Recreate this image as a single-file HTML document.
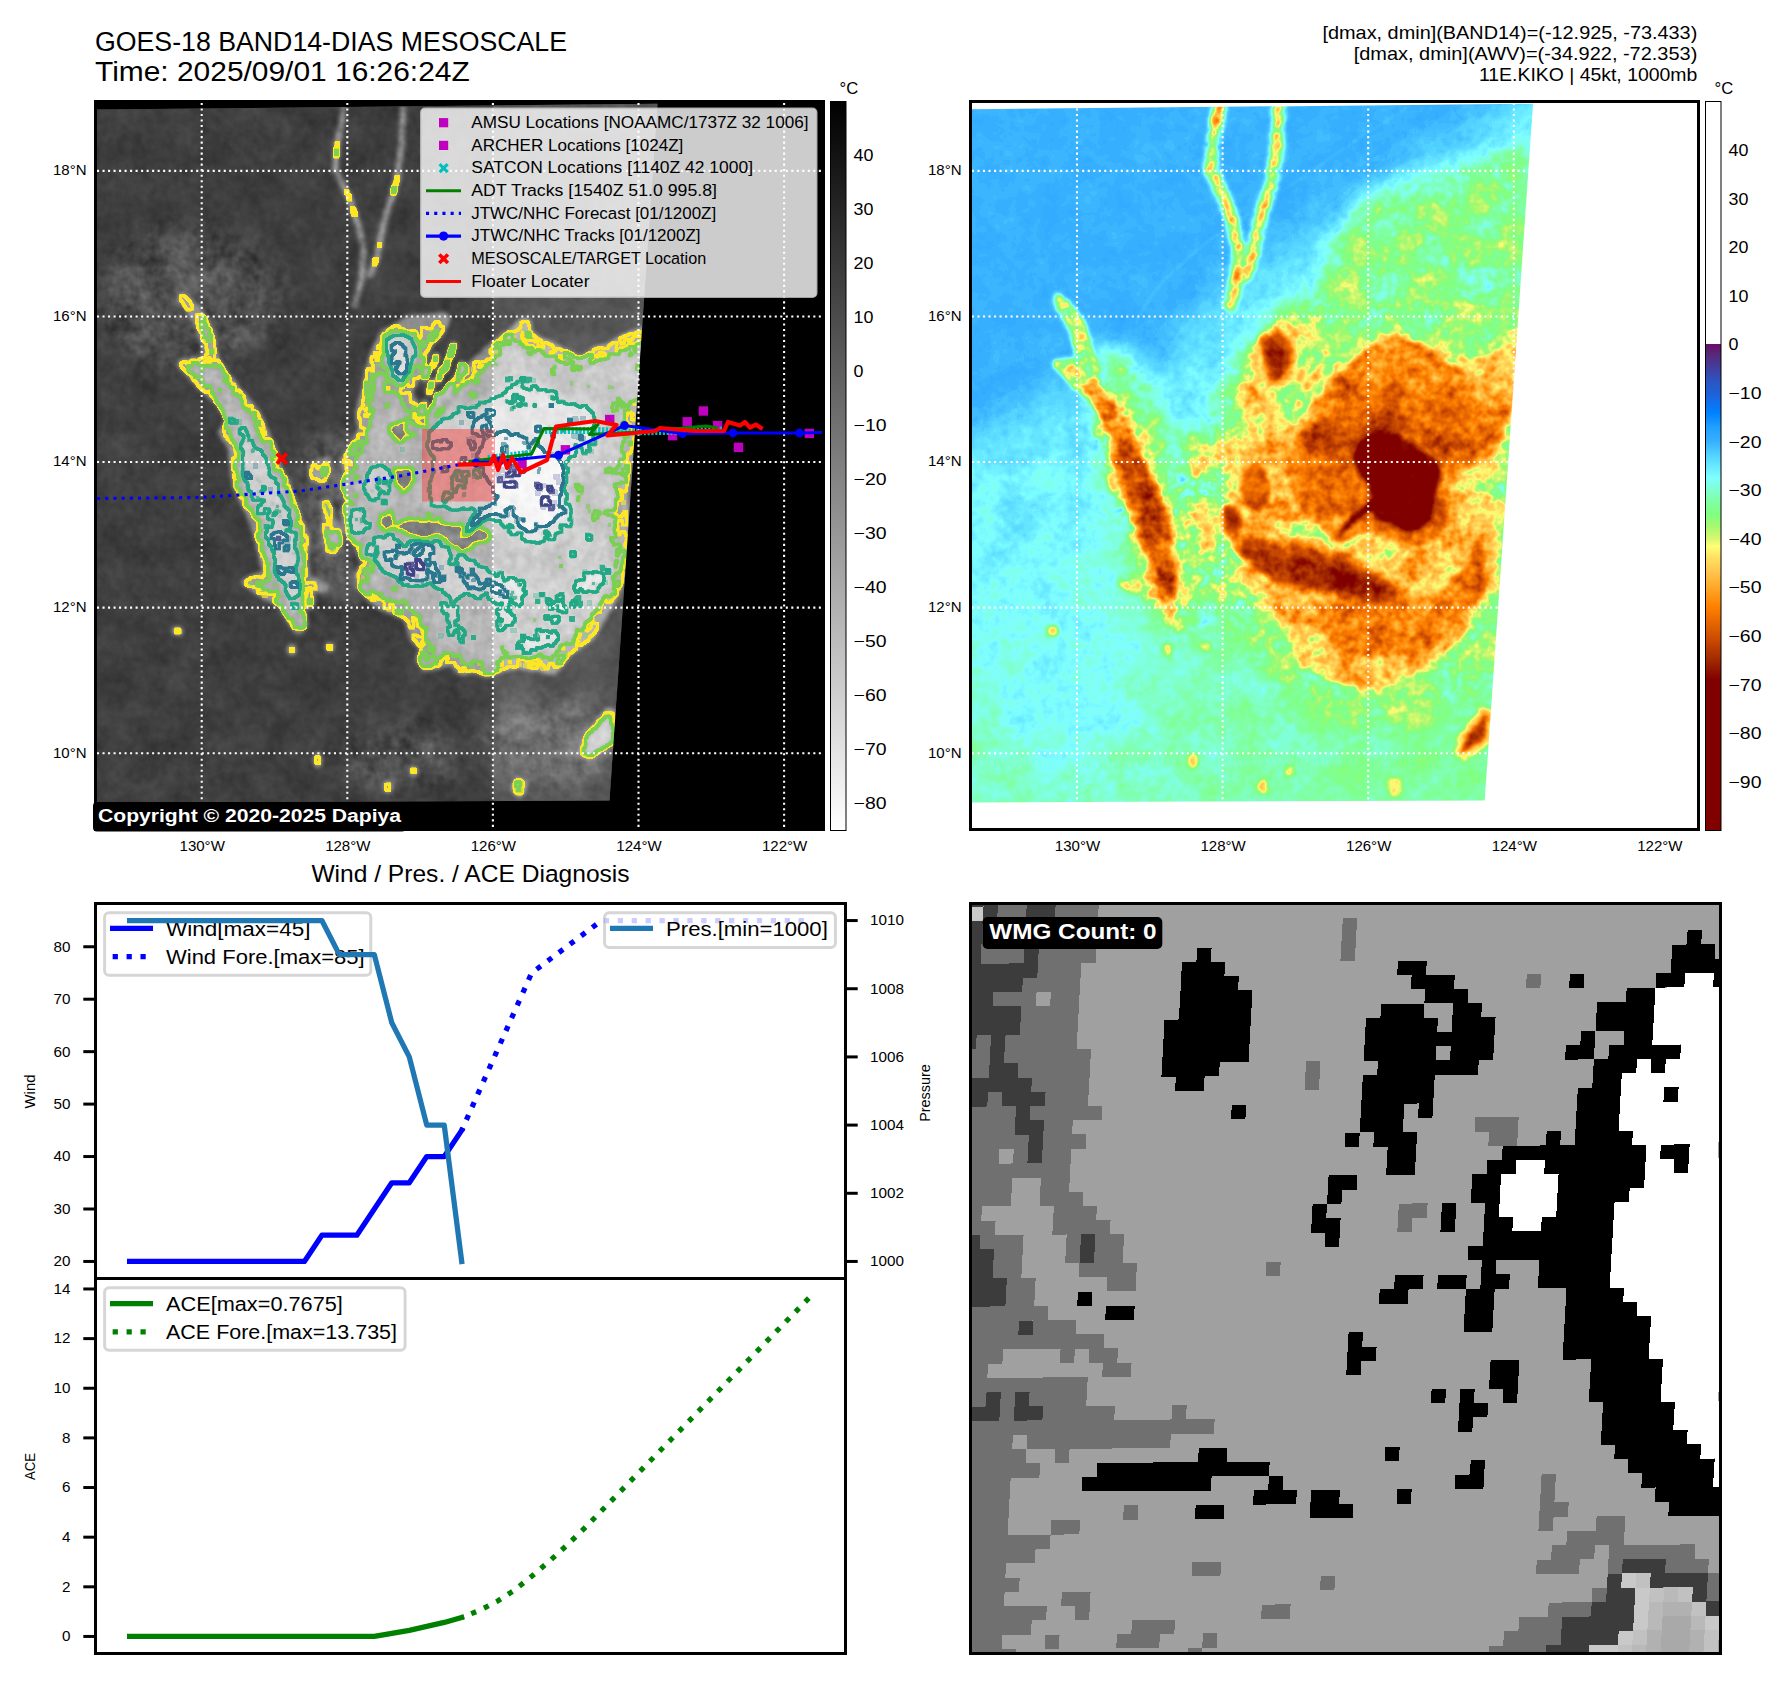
<!DOCTYPE html>
<html><head><meta charset="utf-8"><title>GOES-18 BAND14-DIAS MESOSCALE</title>
<style>
html,body{margin:0;padding:0;background:#fff;}
body{width:1788px;height:1690px;overflow:hidden;}
svg{display:block;font-family:"Liberation Sans",sans-serif;}
</style></head><body>
<svg width="1788" height="1690" viewBox="0 0 1788 1690">
<rect width="1788" height="1690" fill="#fff"/>
<defs></defs>
<g id="tl">
<clipPath id="clipTL"><rect x="97" y="103" width="725" height="725"/></clipPath>
<clipPath id="dataTL"><polygon points="97,109.5 657.5,103.8 609.5,800.5 97,802.5"/></clipPath>
<rect x="96" y="102" width="727" height="727" fill="#000"/>
<g clip-path="url(#dataTL)">
<rect x="96" y="102" width="600" height="720" fill="#404040"/>
<filter id="fIR" x="90" y="95" width="600" height="720" filterUnits="userSpaceOnUse" color-interpolation-filters="sRGB"><feGaussianBlur in="SourceGraphic" stdDeviation="2" result="f0"/><feColorMatrix in="f0" type="matrix" values="1 0 0 0 0  1 0 0 0 0  1 0 0 0 0  0 0 0 0 1" result="fg"/><feColorMatrix in="f0" type="matrix" values="0 1 0 0 0  0 1 0 0 0  0 1 0 0 0  0 0 0 0 1" result="ag"/><feTurbulence type="fractalNoise" baseFrequency="0.03" numOctaves="3" seed="7" result="n1"/><feColorMatrix in="n1" type="matrix" values="1 0 0 0 0  1 0 0 0 0  1 0 0 0 0  0 0 0 0 1" result="ng1"/><feTurbulence type="fractalNoise" baseFrequency="0.12" numOctaves="2" seed="3" result="n2"/><feColorMatrix in="n2" type="matrix" values="1 0 0 0 0  1 0 0 0 0  1 0 0 0 0  0 0 0 0 1" result="ng2"/><feComposite in="ng1" in2="ng2" operator="arithmetic" k1="0" k2="0.607143" k3="0.392857" k4="0" result="N"/><feComposite in="ag" in2="N" operator="arithmetic" k1="0.56" k2="0" k3="0" k4="0" result="t1"/><feComposite in="fg" in2="t1" operator="arithmetic" k1="0" k2="1" k3="1" k4="0" result="F"/><feColorMatrix in="F" type="matrix" values="0 0 0 0 0  0 0 0 0 0  0 0 0 0 0  150.0 0 0 0 -90.000" result="m0"/><feMorphology in="m0" operator="dilate" radius="2" result="d0"/><feMorphology in="m0" operator="erode" radius="1" result="e0"/><feComposite in="d0" in2="e0" operator="out" result="r0"/><feFlood flood-color="#fde725" result="c0"/><feComposite in="c0" in2="r0" operator="in" result="l0"/><feColorMatrix in="F" type="matrix" values="0 0 0 0 0  0 0 0 0 0  0 0 0 0 0  150.0 0 0 0 -96.667" result="m1"/><feMorphology in="m1" operator="dilate" radius="2" result="d1"/><feMorphology in="m1" operator="erode" radius="1" result="e1"/><feComposite in="d1" in2="e1" operator="out" result="r1"/><feFlood flood-color="#7ad151" result="c1"/><feComposite in="c1" in2="r1" operator="in" result="l1"/><feColorMatrix in="F" type="matrix" values="0 0 0 0 0  0 0 0 0 0  0 0 0 0 0  150.0 0 0 0 -115.556" result="m2"/><feMorphology in="m2" operator="dilate" radius="2" result="d2"/><feMorphology in="m2" operator="erode" radius="1" result="e2"/><feComposite in="d2" in2="e2" operator="out" result="r2"/><feFlood flood-color="#22a884" result="c2"/><feComposite in="c2" in2="r2" operator="in" result="l2"/><feColorMatrix in="F" type="matrix" values="0 0 0 0 0  0 0 0 0 0  0 0 0 0 0  150.0 0 0 0 -126.667" result="m3"/><feMorphology in="m3" operator="dilate" radius="2" result="d3"/><feMorphology in="m3" operator="erode" radius="1" result="e3"/><feComposite in="d3" in2="e3" operator="out" result="r3"/><feFlood flood-color="#2a788e" result="c3"/><feComposite in="c3" in2="r3" operator="in" result="l3"/><feColorMatrix in="F" type="matrix" values="0 0 0 0 0  0 0 0 0 0  0 0 0 0 0  150.0 0 0 0 -134.444" result="m4"/><feMorphology in="m4" operator="dilate" radius="2" result="d4"/><feMorphology in="m4" operator="erode" radius="1" result="e4"/><feComposite in="d4" in2="e4" operator="out" result="r4"/><feFlood flood-color="#414487" result="c4"/><feComposite in="c4" in2="r4" operator="in" result="l4"/><feFlood x="493" y="90" width="220" height="730" flood-color="#fff" result="east"/><feComposite in="F" in2="east" operator="arithmetic" k1="0" k2="1" k3="0.09" k4="0" result="Fimg"/><feMerge><feMergeNode in="Fimg"/><feMergeNode in="l0"/><feMergeNode in="l1"/><feMergeNode in="l2"/><feMergeNode in="l3"/><feMergeNode in="l4"/></feMerge></filter>
<filter id="bl6" x="-50%" y="-50%" width="200%" height="200%" color-interpolation-filters="sRGB"><feGaussianBlur stdDeviation="6"/></filter>
<filter id="bl12" x="-50%" y="-50%" width="200%" height="200%" color-interpolation-filters="sRGB"><feGaussianBlur stdDeviation="12"/></filter>
<g filter="url(#fIR)">
<rect x="90" y="95" width="600" height="720" fill="#275400"/>
<ellipse cx="550.0" cy="743" rx="75" ry="45" fill="#1ae600" filter="url(#bl12)"/><ellipse cx="400.0" cy="760" rx="60" ry="30" fill="#13e600" filter="url(#bl12)"/><ellipse cx="190.0" cy="300" rx="90" ry="70" fill="#0fe600" filter="url(#bl12)"/><path d="M299.6 441.4 L329.2 435.5 L364.7 429.6 L373.0 439.1 L368.2 447.3 L359.9 452.1 L346.9 455.6 L345.7 466.3 L352.8 473.4 L357.6 482.8 L364.7 494.7 L368.2 506.5 L359.9 512.4 L346.9 506.5 L345.7 518.3 L348.1 537.3 L352.8 553.8 L364.7 565.7 L370.6 583.4 L352.8 600.0 L323.3 600.0 L305.5 577.5 L303.1 542.0 L300.8 506.5 L298.4 471.0Z" fill="#1ae600" filter="url(#bl12)"/><path d="M426.3 421.7 L437.0 407.8 L447.6 396.1 L458.3 382.3 L469.0 371.6 L479.6 362.0 L490.3 352.4 L500.9 343.9 L511.6 336.5 L521.1 327.9 L524.3 325.2 L527.5 337.5 L538.2 343.9 L552.0 349.2 L564.8 356.7 L576.5 363.5 L588.3 361.0 L596.8 353.5 L609.6 350.3 L622.3 342.2 L635.1 337.1 L652.2 331.1 L652.2 399.3 L639.4 403.6 L633.0 416.3 L628.7 441.9 L624.5 467.5 L621.3 493.0 L622.3 525.0 L622.3 552.7 L622.3 553.3 L618.1 578.8 L607.4 602.3 L596.8 621.4 L586.1 636.3 L566.9 649.1 L552.0 668.3 L537.1 664.0 L520.1 661.9 L503.0 664.0 L488.1 670.4 L475.3 666.2 L462.6 668.3 L451.9 657.6 L439.1 661.9 L426.3 664.0 L423.1 657.6 L430.6 649.1 L417.8 638.5 L413.6 627.8 L409.3 615.0 L396.5 608.6 L383.7 604.4 L375.2 598.0 L364.6 585.2 L362.4 574.6 L371.0 563.9 L364.6 553.3 L360.3 542.6 L349.7 527.7 L347.5 512.8 L351.8 502.1 L347.5 484.5 L351.8 471.7 L347.5 461.1 L353.9 450.4 L360.3 441.9 L364.6 429.1 L362.4 416.3 L364.6 403.6 L368.8 390.8 L371.0 375.9 L375.2 361.0 L379.5 348.2 L385.9 339.7 L396.5 331.1 L409.3 322.6 L426.3 321.5 L443.4 319.4 L437.0 331.1 L426.3 341.8 L420.0 354.6 L413.6 369.5 L408.2 382.3 L406.1 395.0 L411.4 405.7 L420.0 414.2Z" fill="#879900" stroke="#749900" stroke-width="14" stroke-linejoin="round" /><path d="M182.6 297.9 L192.1 312.1 L201.5 328.6 L206.3 345.2 L208.6 359.4 L182.6 364.1 L201.5 385.4 L220.5 402.0 L229.9 420.9 L222.8 432.8 L232.3 447.0 L234.7 468.3 L237.0 484.9 L244.1 499.1 L251.2 515.6 L258.3 534.6 L263.1 555.9 L267.8 574.8 L246.5 581.9 L263.1 593.7 L282.0 603.2 L291.5 619.8 L298.6 629.2 L303.3 624.5 L300.9 603.2 L303.3 589.0 L324.6 587.8 L305.7 577.2 L303.3 558.2 L305.7 539.3 L298.6 520.4 L291.5 501.4 L286.7 484.9 L277.3 468.3 L272.5 449.3 L263.1 430.4 L256.0 413.8 L244.1 399.6 L234.7 387.8 L222.8 373.6 L213.4 354.7 L211.0 338.1 L203.9 321.5 L194.4 307.3Z" fill="#7ab200" stroke="#6db200" stroke-width="9" stroke-linejoin="round" /><path d="M379.5 348.2 L385.9 335.4 L400.8 327.9 L415.7 331.1 L423.1 343.9 L421.0 361.0 L414.6 375.9 L407.2 388.6 L398.6 390.8 L390.1 386.5 L383.7 373.7 L380.5 361.0Z" fill="#859900" stroke="#749900" stroke-width="12" stroke-linejoin="round" /><path d="M310.2 466.3 L317.3 461.5 L328.0 459.2 L329.2 471.0 L323.3 480.5 L312.6 480.5Z" fill="#78b200" stroke="#6bb200" stroke-width="5" stroke-linejoin="round" /><path d="M322.1 503.0 L328.0 501.8 L331.5 511.2 L330.4 523.1 L324.4 520.7Z" fill="#74b200" stroke="#6bb200" stroke-width="5" stroke-linejoin="round" /><path d="M323.3 524.3 L333.9 519.5 L339.8 527.8 L341.0 542.0 L333.9 551.5 L326.8 549.1 L325.6 536.1Z" fill="#74b200" stroke="#6bb200" stroke-width="5" stroke-linejoin="round" /><path d="M392.3 422.7 L402.9 420.6 L407.2 433.4 L400.8 444.0 L392.3 439.8Z" fill="#4eb200" /><path d="M397.6 469.6 L409.3 467.5 L411.4 482.4 L405.0 490.9 L396.5 484.5Z" fill="#4eb200" /><path d="M396.5 527.1 L409.3 535.6 L426.3 538.8 L439.1 536.7 L451.9 546.3 L462.6 552.7 L475.3 544.2 L488.1 539.9 L490.3 531.4 L477.5 527.1 L460.4 525.0 L439.1 522.9 L417.8 520.7 L400.8 520.7Z" fill="#4eb200" /><path d="M475.3 506.9 L493.5 496.2 L497.7 504.8 L481.7 513.3Z" fill="#4eb200" /><path d="M389.5 423.7 L400.2 422.5 L403.7 432.0 L397.8 439.1 L388.3 435.5Z" fill="#4eb200" /><path d="M394.3 468.6 L413.2 469.8 L407.3 489.9 L399.0 482.8 L394.3 473.4Z" fill="#4eb200" /><path d="M381.2 516.0 L393.1 513.6 L394.3 525.4 L386.0 533.7 L380.1 525.4Z" fill="#4eb200" /><path d="M439.1 602.3 L481.7 606.5 L524.3 606.5 L566.9 589.5 L592.5 563.9 L605.3 538.3 L609.6 589.5 L588.3 619.3 L562.7 640.6 L535.0 653.4 L503.0 657.6 L471.1 653.4 L447.6 636.3Z" fill="#8bb200" /><path d="M426.3 493.0 L428.5 467.5 L434.9 441.9 L443.4 424.9 L451.9 412.1 L469.0 407.8 L481.7 399.3 L494.5 395.0 L505.2 386.5 L515.8 382.3 L528.6 386.5 L545.6 388.6 L556.3 399.3 L569.1 401.4 L584.0 400.4 L594.6 407.8 L598.9 424.9 L592.5 441.9 L584.0 450.4 L573.3 456.8 L566.9 471.7 L569.1 493.0 L573.3 514.3 L566.9 531.4 L556.3 542.0 L541.4 546.3 L524.3 544.2 L511.6 537.8 L503.0 531.4 L490.3 527.1 L481.7 516.5 L471.1 512.2 L456.2 514.3 L439.1 512.2 L428.5 505.8Z" fill="#ac7300" stroke="#9d7300" stroke-width="8" stroke-linejoin="round" /><path d="M351.8 512.8 L360.3 506.4 L371.0 521.3 L375.2 532.0 L390.1 534.1 L405.0 541.5 L422.1 538.3 L439.1 543.7 L456.2 551.1 L475.3 556.5 L490.3 568.2 L505.2 572.4 L522.2 581.0 L537.1 593.7 L545.6 589.5 L547.8 602.3 L537.1 610.8 L520.1 615.0 L503.0 619.3 L488.1 615.0 L477.5 606.5 L466.8 600.1 L451.9 596.9 L434.9 592.7 L417.8 590.5 L402.9 587.3 L392.3 578.8 L383.7 570.3 L375.2 563.9 L362.4 555.4 L353.9 534.1Z" fill="#8bb200" /><path d="M364.6 546.9 L375.2 536.2 L390.1 540.5 L405.0 546.9 L422.1 542.6 L439.1 549.0 L456.2 557.5 L473.2 561.8 L486.0 572.4 L503.0 576.7 L518.0 585.2 L522.2 593.7 L513.7 602.3 L498.8 604.4 L481.7 598.0 L469.0 593.7 L451.9 591.6 L434.9 587.3 L417.8 585.2 L400.8 581.0 L385.9 572.4 L375.2 559.7 L366.7 553.3Z" fill="#a59900" /><path d="M384.8 337.5 L400.8 333.3 L413.6 337.5 L417.8 350.3 L413.6 365.2 L407.2 375.9 L400.8 384.4 L394.4 378.0 L390.1 365.2 L385.9 352.4Z" fill="#a88000" /><path d="M378.8 463.1 L389.4 469.5 L395.8 486.5 L393.7 503.6 L383.0 512.1 L370.3 505.7 L363.9 488.6 L368.1 471.6Z" fill="#a68000" /><path d="M348.1 506.5 L355.2 507.7 L364.7 518.3 L368.2 527.8 L357.6 532.5 L350.5 537.3 L348.1 518.3Z" fill="#a68000" /><path d="M211.0 371.2 L225.2 387.8 L239.4 406.7 L251.2 423.3 L263.1 444.6 L272.5 463.6 L282.0 484.9 L291.5 508.5 L298.6 532.2 L300.9 555.9 L302.1 579.5 L300.9 610.3 L293.8 610.3 L284.4 591.4 L272.5 572.4 L265.4 548.8 L258.3 525.1 L248.9 503.8 L241.8 480.1 L237.0 458.8 L234.7 439.9 L227.6 420.9 L218.1 402.0 L206.3 383.1 L194.4 368.9Z" fill="#85b200" /><path d="M241.8 428.0 L253.6 439.9 L265.4 456.4 L272.5 473.0 L277.3 492.0 L286.7 510.9 L293.8 532.2 L296.2 553.5 L298.6 574.8 L300.9 598.5 L291.5 596.1 L282.0 574.8 L272.5 553.5 L265.4 532.2 L256.0 508.5 L248.9 487.2 L244.1 465.9 L241.8 444.6Z" fill="#a19900" /><path d="M581.9 751.4 L588.3 734.3 L598.9 721.6 L607.4 710.9 L613.8 713.0 L613.8 740.7 L601.0 749.3 L588.3 757.8Z" fill="#998000" stroke="#7b8000" stroke-width="6" stroke-linejoin="round" /><path d="M426.3 433.4 L439.1 422.7 L456.2 418.5 L473.2 416.3 L490.3 412.1 L507.3 410.0 L524.3 414.2 L541.4 420.6 L556.3 429.1 L571.2 441.9 L575.5 454.7 L566.9 456.8 L558.4 456.8 L545.6 450.4 L535.0 441.9 L520.1 433.4 L503.0 431.3 L488.1 437.6 L481.7 446.2 L477.5 459.0 L473.2 467.5 L460.4 463.2 L451.9 454.7 L439.1 456.8 L428.5 450.4Z" fill="#b56600" /><path d="M488.1 437.6 L503.0 431.3 L520.1 433.4 L535.0 441.9 L545.6 450.4 L558.4 456.8 L564.8 471.7 L562.7 488.8 L558.4 505.8 L556.3 518.6 L545.6 529.3 L530.7 531.4 L515.8 525.0 L503.0 520.7 L494.5 511.1 L481.7 520.7 L471.1 531.4 L460.4 537.8 L466.8 527.1 L477.5 514.3 L490.3 505.8 L496.6 497.3 L492.4 484.5 L481.7 471.7 L477.5 459.0 L481.7 446.2Z" fill="#ca4c00" /><path d="M383.7 551.1 L396.5 553.3 L409.3 557.5 L426.3 555.4 L439.1 561.8 L456.2 566.0 L473.2 570.3 L486.0 578.8 L503.0 585.2 L511.6 591.6 L503.0 598.0 L486.0 593.7 L469.0 587.3 L451.9 585.2 L434.9 581.0 L417.8 578.8 L402.9 574.6 L390.1 563.9Z" fill="#b09900" /><path d="M390.1 343.9 L400.8 341.8 L409.3 350.3 L407.2 365.2 L400.8 375.9 L395.5 369.5 L392.3 356.7Z" fill="#bf6600" /><polyline points="343.9,108.1 337.4,143.2 335.2,169.4 348.3,195.7 357.1,222.0 363.6,248.2 361.5,278.9 354.9,305.2" fill="none" stroke="#38cc00" stroke-width="7" stroke-linecap="round" stroke-linejoin="round" /><polyline points="403.0,108.1 401.7,147.5 396.5,182.6 387.7,208.8 381.2,235.1 376.8,257.0 370.2,274.5" fill="none" stroke="#38cc00" stroke-width="7" stroke-linecap="round" stroke-linejoin="round" /><polyline points="343.9,108.1 337.4,143.2 335.2,169.4 348.3,195.7 357.1,222.0 363.6,248.2 361.5,278.9 354.9,305.2" fill="none" stroke="#53ff00" stroke-width="4.5" stroke-linecap="round" stroke-linejoin="round" /><polyline points="403.0,108.1 401.7,147.5 396.5,182.6 387.7,208.8 381.2,235.1 376.8,257.0 370.2,274.5" fill="none" stroke="#53ff00" stroke-width="4.5" stroke-linecap="round" stroke-linejoin="round" /><polyline points="433.4,366.0 436.4,356.0" fill="none" stroke="#929900" stroke-width="6" stroke-linecap="round" stroke-linejoin="round" /><polyline points="438.7,379.8 441.7,369.8" fill="none" stroke="#929900" stroke-width="6" stroke-linecap="round" stroke-linejoin="round" /><polyline points="445.1,370.2 448.1,360.2" fill="none" stroke="#929900" stroke-width="6" stroke-linecap="round" stroke-linejoin="round" /><polyline points="429.1,392.6 432.1,382.6" fill="none" stroke="#929900" stroke-width="6" stroke-linecap="round" stroke-linejoin="round" /><polyline points="435.5,405.4 438.5,395.4" fill="none" stroke="#929900" stroke-width="6" stroke-linecap="round" stroke-linejoin="round" /><polyline points="447.2,395.8 450.2,385.8" fill="none" stroke="#929900" stroke-width="6" stroke-linecap="round" stroke-linejoin="round" /><polyline points="421.6,412.8 424.6,402.8" fill="none" stroke="#929900" stroke-width="6" stroke-linecap="round" stroke-linejoin="round" /><polyline points="430.2,421.3 433.2,411.3" fill="none" stroke="#929900" stroke-width="6" stroke-linecap="round" stroke-linejoin="round" /><polyline points="450.4,355.3 453.4,345.3" fill="none" stroke="#929900" stroke-width="6" stroke-linecap="round" stroke-linejoin="round" /><polyline points="458.9,374.5 461.9,364.5" fill="none" stroke="#929900" stroke-width="6" stroke-linecap="round" stroke-linejoin="round" /><polyline points="424.8,378.7 427.8,368.7" fill="none" stroke="#929900" stroke-width="6" stroke-linecap="round" stroke-linejoin="round" /><ellipse cx="177.6" cy="631.0" rx="5.5" ry="4.5" fill="#838000"/><ellipse cx="317.7" cy="760.0" rx="4.5" ry="7.5" fill="#838000"/><ellipse cx="387.7" cy="787.0" rx="4.5" ry="6.5" fill="#838000"/><ellipse cx="414.0" cy="771.0" rx="4.5" ry="4.5" fill="#838000"/><ellipse cx="519.0" cy="787.0" rx="7.5" ry="9.5" fill="#838000"/><ellipse cx="310.0" cy="600.0" rx="4.5" ry="9.5" fill="#838000"/><ellipse cx="292.0" cy="650.0" rx="4.5" ry="5.5" fill="#838000"/><ellipse cx="330.0" cy="647.0" rx="4.5" ry="4.5" fill="#838000"/>
</g>
</g>
<g clip-path="url(#clipTL)">
<rect x="422" y="429" width="73" height="72.5" fill="#ff3030" fill-opacity="0.42"/>
<line x1="201.7" y1="103" x2="201.7" y2="828" stroke="#fff" stroke-width="2.08" stroke-dasharray="2.08 3.43" stroke-dashoffset="0"/>
<line x1="347.3" y1="103" x2="347.3" y2="828" stroke="#fff" stroke-width="2.08" stroke-dasharray="2.08 3.43" stroke-dashoffset="0"/>
<line x1="492.9" y1="103" x2="492.9" y2="828" stroke="#fff" stroke-width="2.08" stroke-dasharray="2.08 3.43" stroke-dashoffset="0"/>
<line x1="638.5" y1="103" x2="638.5" y2="828" stroke="#fff" stroke-width="2.08" stroke-dasharray="2.08 3.43" stroke-dashoffset="0"/>
<line x1="784.1" y1="103" x2="784.1" y2="828" stroke="#fff" stroke-width="2.08" stroke-dasharray="2.08 3.43" stroke-dashoffset="0"/>
<line x1="97" y1="170.9" x2="822" y2="170.9" stroke="#fff" stroke-width="2.08" stroke-dasharray="2.08 3.43"/>
<line x1="97" y1="316.5" x2="822" y2="316.5" stroke="#fff" stroke-width="2.08" stroke-dasharray="2.08 3.43"/>
<line x1="97" y1="462.0" x2="822" y2="462.0" stroke="#fff" stroke-width="2.08" stroke-dasharray="2.08 3.43"/>
<line x1="97" y1="607.6" x2="822" y2="607.6" stroke="#fff" stroke-width="2.08" stroke-dasharray="2.08 3.43"/>
<line x1="97" y1="753.2" x2="822" y2="753.2" stroke="#fff" stroke-width="2.08" stroke-dasharray="2.08 3.43"/>
<rect x="605.0" y="414.8" width="9.4" height="9.4" fill="#bf00bf"/>
<rect x="698.7" y="406.3" width="9.4" height="9.4" fill="#bf00bf"/>
<rect x="682.5" y="417.1" width="9.4" height="9.4" fill="#bf00bf"/>
<rect x="712.9" y="420.9" width="9.4" height="9.4" fill="#bf00bf"/>
<rect x="667.9" y="431.0" width="9.4" height="9.4" fill="#bf00bf"/>
<rect x="733.8" y="442.7" width="9.4" height="9.4" fill="#bf00bf"/>
<rect x="804.6" y="428.7" width="9.4" height="9.4" fill="#bf00bf"/>
<rect x="560.7" y="445.1" width="9.4" height="9.4" fill="#bf00bf"/>
<rect x="517.3" y="459.1" width="9.4" height="9.4" fill="#bf00bf"/>
<polyline points="488.0,458.5 532.0,453.0" fill="none" stroke="#00bfbf" stroke-width="7" stroke-linejoin="round" stroke-dasharray="2.2 1.6"/>
<polyline points="545.0,430.5 600.0,430.5 625.0,432.0 700.0,431.0 722.0,430.0" fill="none" stroke="#00bfbf" stroke-width="7" stroke-linejoin="round" stroke-dasharray="2.2 1.6"/>
<polyline points="468.5,461.5 531.5,454.0 544.0,428.5 590.0,429.0 598.0,424.5 589.5,434.5 640.0,432.0 706.0,426.0 718.0,428.0" fill="none" stroke="#008000" stroke-width="3.1" stroke-linejoin="round" />
<polyline points="97.0,498.5 200.0,497.5 300.0,491.0 400.0,476.0 457.0,465.0 476.0,463.0" fill="none" stroke="#0000ff" stroke-width="3.1" stroke-linejoin="round" stroke-dasharray="3.1 5.1"/>
<polyline points="822.0,432.5 799.5,433.0 733.0,433.0 682.5,433.5 624.5,425.5 558.5,455.2 500.0,461.0 476.0,463.0" fill="none" stroke="#0000ff" stroke-width="3.1" stroke-linejoin="round" />
<circle cx="799.5" cy="433.0" r="4.4" fill="#0000ff"/>
<circle cx="733.0" cy="433.0" r="4.4" fill="#0000ff"/>
<circle cx="682.5" cy="433.5" r="4.4" fill="#0000ff"/>
<circle cx="624.5" cy="425.5" r="4.4" fill="#0000ff"/>
<circle cx="558.5" cy="455.2" r="4.4" fill="#0000ff"/>
<circle cx="500.0" cy="461.0" r="4.4" fill="#0000ff"/>
<circle cx="476.0" cy="463.0" r="4.4" fill="#0000ff"/>
<polyline points="457.7,464.6 490.0,464.0 494.0,456.0 498.0,470.0 503.0,455.0 507.0,468.0 512.0,458.0 517.0,466.0 520.8,472.3 547.0,460.0 556.0,426.5 595.0,421.0 616.5,425.0 607.5,435.5 655.0,431.0 660.0,428.0 694.0,431.0 724.0,431.0 728.0,422.0 740.0,425.5 745.0,422.0 750.0,427.5 756.0,424.5 762.5,429.0" fill="none" stroke="#ff0000" stroke-width="4.2" stroke-linejoin="round" />
<path d="M276.8 453.6L286.8 463.6M276.8 463.6L286.8 453.6" stroke="#ff0000" stroke-width="3.8" fill="none"/>
</g>
<rect x="421" y="108.5" width="395.5" height="188.5" rx="4" ry="4" fill="#fff" fill-opacity="0.8" stroke="#ccc" stroke-opacity="0.8" stroke-width="2"/>
<text x="471.30" y="127.90" font-size="16.56" textLength="337.22" lengthAdjust="spacingAndGlyphs" fill="#000">AMSU Locations [NOAAMC/1737Z 32 1006]</text>
<text x="471.30" y="150.58" font-size="16.56" textLength="212.03" lengthAdjust="spacingAndGlyphs" fill="#000">ARCHER Locations [1024Z]</text>
<text x="471.30" y="173.26" font-size="16.56" textLength="281.72" lengthAdjust="spacingAndGlyphs" fill="#000">SATCON Locations [1140Z 42 1000]</text>
<text x="471.30" y="195.94" font-size="16.56" textLength="245.64" lengthAdjust="spacingAndGlyphs" fill="#000">ADT Tracks [1540Z 51.0 995.8]</text>
<text x="471.30" y="218.62" font-size="16.56" textLength="244.88" lengthAdjust="spacingAndGlyphs" fill="#000">JTWC/NHC Forecast [01/1200Z]</text>
<text x="471.30" y="241.30" font-size="16.56" textLength="229.19" lengthAdjust="spacingAndGlyphs" fill="#000">JTWC/NHC Tracks [01/1200Z]</text>
<text x="471.30" y="263.98" font-size="16.56" textLength="234.87" lengthAdjust="spacingAndGlyphs" fill="#000">MESOSCALE/TARGET Location</text>
<text x="471.30" y="286.66" font-size="16.56" textLength="118.19" lengthAdjust="spacingAndGlyphs" fill="#000">Floater Locater</text>
<rect x="439" y="118.1" width="9.2" height="9.2" fill="#bf00bf"/>
<rect x="439" y="140.8" width="9.2" height="9.2" fill="#bf00bf"/>
<path d="M439.6 164.1L447.6 172.1M439.6 172.1L447.6 164.1" stroke="#00bfbf" stroke-width="3.1" fill="none"/>
<line x1="426" y1="190.7" x2="461" y2="190.7" stroke="#008000" stroke-width="3.1"/>
<line x1="426" y1="213.4" x2="461" y2="213.4" stroke="#0000ff" stroke-width="3.1" stroke-dasharray="3.1 5.1"/>
<line x1="426" y1="236.1" x2="461" y2="236.1" stroke="#0000ff" stroke-width="3.1"/>
<circle cx="443.6" cy="236.1" r="4.6" fill="#0000ff"/>
<path d="M439.3 254.5L447.9 263.1M439.3 263.1L447.9 254.5" stroke="#ff0000" stroke-width="3.6" fill="none"/>
<line x1="426" y1="281.5" x2="461" y2="281.5" stroke="#ff0000" stroke-width="3.1"/>
<rect x="93" y="802" width="313" height="29.5" rx="4" ry="4" fill="#000"/>
<text x="98.00" y="821.60" font-size="18.41" textLength="303.04" lengthAdjust="spacingAndGlyphs" fill="#fff" font-weight="bold">Copyright © 2020-2025 Dapiya</text>
<rect x="95.5" y="101.5" width="728" height="728" fill="none" stroke="#000" stroke-width="3"/>
<text x="53.00" y="175.20" font-size="14.12" textLength="33.60" lengthAdjust="spacingAndGlyphs" fill="#000">18°N</text>
<text x="53.00" y="320.80" font-size="14.12" textLength="33.60" lengthAdjust="spacingAndGlyphs" fill="#000">16°N</text>
<text x="53.00" y="466.30" font-size="14.12" textLength="33.60" lengthAdjust="spacingAndGlyphs" fill="#000">14°N</text>
<text x="53.00" y="611.90" font-size="14.12" textLength="33.60" lengthAdjust="spacingAndGlyphs" fill="#000">12°N</text>
<text x="53.00" y="757.50" font-size="14.12" textLength="33.60" lengthAdjust="spacingAndGlyphs" fill="#000">10°N</text>
<text x="179.56" y="851.00" font-size="14.12" textLength="45.29" lengthAdjust="spacingAndGlyphs" fill="#000">130°W</text>
<text x="325.16" y="851.00" font-size="14.12" textLength="45.29" lengthAdjust="spacingAndGlyphs" fill="#000">128°W</text>
<text x="470.76" y="851.00" font-size="14.12" textLength="45.29" lengthAdjust="spacingAndGlyphs" fill="#000">126°W</text>
<text x="616.36" y="851.00" font-size="14.12" textLength="45.29" lengthAdjust="spacingAndGlyphs" fill="#000">124°W</text>
<text x="761.96" y="851.00" font-size="14.12" textLength="45.29" lengthAdjust="spacingAndGlyphs" fill="#000">122°W</text>
<text x="95.00" y="50.80" font-size="27.59" textLength="471.99" lengthAdjust="spacingAndGlyphs" fill="#000">GOES-18 BAND14-DIAS MESOSCALE</text>
<text x="95.00" y="81.00" font-size="27.59" textLength="374.73" lengthAdjust="spacingAndGlyphs" fill="#000">Time: 2025/09/01 16:26:24Z</text>
<linearGradient id="cbGray" x1="0" y1="0" x2="0" y2="1"><stop offset="0" stop-color="#000"/><stop offset="1" stop-color="#fff"/></linearGradient>
<rect x="830.5" y="101.5" width="15.5" height="729" fill="url(#cbGray)" stroke="#000" stroke-width="1"/>
<text x="853.60" y="161.40" font-size="16.56" textLength="19.88" lengthAdjust="spacingAndGlyphs" fill="#000">40</text>
<text x="853.60" y="215.40" font-size="16.56" textLength="19.88" lengthAdjust="spacingAndGlyphs" fill="#000">30</text>
<text x="853.60" y="269.40" font-size="16.56" textLength="19.88" lengthAdjust="spacingAndGlyphs" fill="#000">20</text>
<text x="853.60" y="323.40" font-size="16.56" textLength="19.88" lengthAdjust="spacingAndGlyphs" fill="#000">10</text>
<text x="853.60" y="377.40" font-size="16.56" textLength="9.94" lengthAdjust="spacingAndGlyphs" fill="#000">0</text>
<text x="853.60" y="431.40" font-size="16.56" textLength="32.97" lengthAdjust="spacingAndGlyphs" fill="#000">−10</text>
<text x="853.60" y="485.40" font-size="16.56" textLength="32.97" lengthAdjust="spacingAndGlyphs" fill="#000">−20</text>
<text x="853.60" y="539.40" font-size="16.56" textLength="32.97" lengthAdjust="spacingAndGlyphs" fill="#000">−30</text>
<text x="853.60" y="593.40" font-size="16.56" textLength="32.97" lengthAdjust="spacingAndGlyphs" fill="#000">−40</text>
<text x="853.60" y="647.40" font-size="16.56" textLength="32.97" lengthAdjust="spacingAndGlyphs" fill="#000">−50</text>
<text x="853.60" y="701.40" font-size="16.56" textLength="32.97" lengthAdjust="spacingAndGlyphs" fill="#000">−60</text>
<text x="853.60" y="755.40" font-size="16.56" textLength="32.97" lengthAdjust="spacingAndGlyphs" fill="#000">−70</text>
<text x="853.60" y="809.40" font-size="16.56" textLength="32.97" lengthAdjust="spacingAndGlyphs" fill="#000">−80</text>
<text x="839.50" y="93.80" font-size="16.56" textLength="18.72" lengthAdjust="spacingAndGlyphs" fill="#000">°C</text>
</g>
<g id="tr">
<clipPath id="clipTR"><rect x="972" y="103" width="725" height="725"/></clipPath>
<clipPath id="dataTR"><polygon points="972,109.3 1533,103.8 1484.7,800.5 972,802.5"/></clipPath>
<rect x="971" y="102" width="727" height="727" fill="#fff"/>
<g clip-path="url(#dataTR)">
<filter id="fWV" x="965" y="95" width="600" height="720" filterUnits="userSpaceOnUse" color-interpolation-filters="sRGB"><feGaussianBlur in="SourceGraphic" stdDeviation="2" result="f0"/><feColorMatrix in="f0" type="matrix" values="1 0 0 0 0  1 0 0 0 0  1 0 0 0 0  0 0 0 0 1" result="fg"/><feColorMatrix in="f0" type="matrix" values="0 1 0 0 0  0 1 0 0 0  0 1 0 0 0  0 0 0 0 1" result="ag"/><feTurbulence type="fractalNoise" baseFrequency="0.03" numOctaves="3" seed="11" result="n1"/><feColorMatrix in="n1" type="matrix" values="1 0 0 0 0  1 0 0 0 0  1 0 0 0 0  0 0 0 0 1" result="ng1"/><feTurbulence type="fractalNoise" baseFrequency="0.12" numOctaves="2" seed="5" result="n2"/><feColorMatrix in="n2" type="matrix" values="1 0 0 0 0  1 0 0 0 0  1 0 0 0 0  0 0 0 0 1" result="ng2"/><feComposite in="ng1" in2="ng2" operator="arithmetic" k1="0" k2="0.578947" k3="0.421053" k4="0" result="N"/><feComposite in="ag" in2="N" operator="arithmetic" k1="0.38" k2="0" k3="0" k4="0" result="t1"/><feComposite in="fg" in2="t1" operator="arithmetic" k1="0" k2="1" k3="1" k4="0" result="F"/><feComponentTransfer in="F"><feFuncR type="table" tableValues="1.000 1.000 1.000 1.000 1.000 1.000 1.000 1.000 1.000 1.000 1.000 1.000 1.000 1.000 1.000 1.000 1.000 1.000 1.000 1.000 1.000 1.000 1.000 1.000 1.000 1.000 1.000 1.000 1.000 1.000 1.000 1.000 1.000 1.000 1.000 1.000 1.000 1.000 1.000 1.000 0.408 0.369 0.329 0.290 0.251 0.212 0.173 0.145 0.125 0.086 0.047 0.008 0.042 0.094 0.141 0.180 0.220 0.267 0.314 0.361 0.408 0.455 0.502 0.502 0.502 0.502 0.502 0.502 0.502 0.580 0.659 0.753 0.847 0.975 1.000 1.000 1.000 1.000 1.000 1.000 1.000 1.000 1.000 1.000 0.970 0.932 0.894 0.855 0.816 0.769 0.722 0.675 0.627 0.588 0.549 0.510 0.502 0.502 0.502 0.502 0.502 0.502 0.502 0.502 0.502 0.502 0.502 0.502 0.502"/><feFuncG type="table" tableValues="1.000 1.000 1.000 1.000 1.000 1.000 1.000 1.000 1.000 1.000 1.000 1.000 1.000 1.000 1.000 1.000 1.000 1.000 1.000 1.000 1.000 1.000 1.000 1.000 1.000 1.000 1.000 1.000 1.000 1.000 1.000 1.000 1.000 1.000 1.000 1.000 1.000 1.000 1.000 1.000 0.063 0.122 0.173 0.212 0.251 0.290 0.329 0.357 0.376 0.416 0.455 0.494 0.544 0.596 0.638 0.664 0.690 0.753 0.816 0.863 0.910 0.955 1.000 1.000 1.000 1.000 1.000 1.000 1.000 0.986 0.973 0.973 0.973 0.995 0.951 0.891 0.841 0.794 0.748 0.704 0.659 0.610 0.561 0.512 0.471 0.431 0.392 0.353 0.314 0.275 0.235 0.196 0.157 0.108 0.059 0.010 0.000 0.000 0.000 0.000 0.000 0.000 0.000 0.000 0.000 0.000 0.000 0.000 0.000"/><feFuncB type="table" tableValues="1.000 1.000 1.000 1.000 1.000 1.000 1.000 1.000 1.000 1.000 1.000 1.000 1.000 1.000 1.000 1.000 1.000 1.000 1.000 1.000 1.000 1.000 1.000 1.000 1.000 1.000 1.000 1.000 1.000 1.000 1.000 1.000 1.000 1.000 1.000 1.000 1.000 1.000 1.000 1.000 0.408 0.447 0.497 0.562 0.627 0.693 0.758 0.802 0.831 0.900 0.956 0.993 1.000 1.000 1.000 1.000 1.000 1.000 1.000 1.000 1.000 1.000 1.000 0.908 0.816 0.722 0.627 0.565 0.502 0.471 0.439 0.439 0.439 0.465 0.433 0.386 0.351 0.320 0.269 0.213 0.157 0.108 0.059 0.010 0.000 0.000 0.000 0.000 0.000 0.000 0.000 0.000 0.000 0.000 0.000 0.000 0.000 0.000 0.000 0.000 0.000 0.000 0.000 0.000 0.000 0.000 0.000 0.000 0.000"/></feComponentTransfer></filter>
<filter id="bl30" x="-50%" y="-50%" width="200%" height="200%" color-interpolation-filters="sRGB"><feGaussianBlur stdDeviation="30"/></filter>
<filter id="bl20" x="-50%" y="-50%" width="200%" height="200%" color-interpolation-filters="sRGB"><feGaussianBlur stdDeviation="20"/></filter>
<g filter="url(#fWV)">
<rect x="960" y="90" width="620" height="730" fill="#8f3800"/>
<polygon points="900,40 1600,40 1560,140 1460,230 1350,310 1260,370 1200,440 1100,540 1000,620 900,680" fill="#863300" filter="url(#bl30)"/>
<polygon points="900,40 1548,40 1530,105 1450,140 1380,185 1300,240 1240,280 1195,320 1165,370 1120,400 1060,395 1000,425 900,470" fill="#811200" filter="url(#bl20)"/>
<ellipse cx="1065" cy="670" rx="75" ry="110" fill="#883300" filter="url(#bl30)"/>
<ellipse cx="1400" cy="760" rx="90" ry="40" fill="#934000" filter="url(#bl30)"/>
<polygon points="1368,196 1530,147 1521,340 1403,331 1337,305 1315,270" fill="#878000" filter="url(#bl12)"/>
<ellipse cx="1385" cy="500" rx="185" ry="225" fill="#859900" filter="url(#bl12)"/>
<ellipse cx="1150" cy="490" rx="38" ry="150" transform="rotate(-17 1150 490)" fill="#839900" filter="url(#bl12)"/>
<path d="M1174.9 441.4 L1204.5 435.5 L1240.0 429.6 L1248.3 439.1 L1243.5 447.3 L1235.2 452.1 L1222.2 455.6 L1221.0 466.3 L1228.1 473.4 L1232.9 482.8 L1240.0 494.7 L1243.5 506.5 L1235.2 512.4 L1222.2 506.5 L1221.0 518.3 L1223.4 537.3 L1228.1 553.8 L1240.0 565.7 L1245.9 583.4 L1228.1 600.0 L1198.6 600.0 L1180.8 577.5 L1178.4 542.0 L1176.1 506.5 L1173.7 471.0Z" fill="#74ff00" filter="url(#bl12)"/><path d="M1301.6 421.7 L1312.3 407.8 L1322.9 396.1 L1333.6 382.3 L1344.3 371.6 L1354.9 362.0 L1365.6 352.4 L1376.2 343.9 L1386.9 336.5 L1396.4 327.9 L1399.6 325.2 L1402.8 337.5 L1413.5 343.9 L1427.3 349.2 L1440.1 356.7 L1451.8 363.5 L1463.6 361.0 L1472.1 353.5 L1484.9 350.3 L1497.6 342.2 L1510.4 337.1 L1527.5 331.1 L1527.5 399.3 L1514.7 403.6 L1508.3 416.3 L1504.0 441.9 L1499.8 467.5 L1496.6 493.0 L1497.6 525.0 L1497.6 552.7 L1497.6 553.3 L1493.4 578.8 L1482.7 602.3 L1472.1 621.4 L1461.4 636.3 L1442.2 649.1 L1427.3 668.3 L1412.4 664.0 L1395.4 661.9 L1378.3 664.0 L1363.4 670.4 L1350.6 666.2 L1337.9 668.3 L1327.2 657.6 L1314.4 661.9 L1301.6 664.0 L1298.4 657.6 L1305.9 649.1 L1293.1 638.5 L1288.9 627.8 L1284.6 615.0 L1271.8 608.6 L1259.0 604.4 L1250.5 598.0 L1239.9 585.2 L1237.7 574.6 L1246.3 563.9 L1239.9 553.3 L1235.6 542.6 L1225.0 527.7 L1222.8 512.8 L1227.1 502.1 L1222.8 484.5 L1227.1 471.7 L1222.8 461.1 L1229.2 450.4 L1235.6 441.9 L1239.9 429.1 L1237.7 416.3 L1239.9 403.6 L1244.1 390.8 L1246.3 375.9 L1250.5 361.0 L1254.8 348.2 L1261.2 339.7 L1271.8 331.1 L1284.6 322.6 L1301.6 321.5 L1318.7 319.4 L1312.3 331.1 L1301.6 341.8 L1295.3 354.6 L1288.9 369.5 L1283.5 382.3 L1281.4 395.0 L1286.7 405.7 L1295.3 414.2Z" fill="#8fcc00" stroke="#83cc00" stroke-width="10" stroke-linejoin="round" /><path d="M1057.9 297.9 L1067.4 312.1 L1076.8 328.6 L1081.6 345.2 L1083.9 359.4 L1057.9 364.1 L1076.8 385.4 L1095.8 402.0 L1105.2 420.9 L1098.1 432.8 L1107.6 447.0 L1110.0 468.3 L1112.3 484.9 L1119.4 499.1 L1126.5 515.6 L1133.6 534.6 L1138.4 555.9 L1143.1 574.8 L1121.8 581.9 L1138.4 593.7 L1157.3 603.2 L1166.8 619.8 L1173.9 629.2 L1178.6 624.5 L1176.2 603.2 L1178.6 589.0 L1199.9 587.8 L1181.0 577.2 L1178.6 558.2 L1181.0 539.3 L1173.9 520.4 L1166.8 501.4 L1162.0 484.9 L1152.6 468.3 L1147.8 449.3 L1138.4 430.4 L1131.3 413.8 L1119.4 399.6 L1110.0 387.8 L1098.1 373.6 L1088.7 354.7 L1086.3 338.1 L1079.2 321.5 L1069.7 307.3Z" fill="#81ff00" stroke="#76ff00" stroke-width="8" stroke-linejoin="round" /><path d="M1254.8 348.2 L1261.2 335.4 L1276.1 327.9 L1291.0 331.1 L1298.4 343.9 L1296.3 361.0 L1289.9 375.9 L1282.5 388.6 L1273.9 390.8 L1265.4 386.5 L1259.0 373.7 L1255.8 361.0Z" fill="#8fcc00" /><path d="M1399.6 542.0 L1431.6 542.0 L1452.9 525.0 L1474.2 514.3 L1493.4 525.0 L1495.5 556.9 L1494.4 563.9 L1484.9 595.9 L1472.1 619.3 L1459.3 638.5 L1442.2 653.4 L1420.9 668.3 L1399.6 681.1 L1378.3 691.7 L1357.0 687.5 L1335.7 683.2 L1318.7 676.8 L1301.6 666.2 L1293.1 649.1 L1276.1 619.3 L1261.2 585.2 L1293.1 585.2 L1327.2 591.6 L1357.0 598.0 L1389.0 602.3 L1397.5 593.7 L1399.6 563.9Z" fill="#90cc00" /><path d="M1185.5 466.3 L1192.6 461.5 L1203.3 459.2 L1204.5 471.0 L1198.6 480.5 L1187.9 480.5Z" fill="#8fcc00" stroke="#83cc00" stroke-width="5" stroke-linejoin="round" /><path d="M1197.4 503.0 L1203.3 501.8 L1206.8 511.2 L1205.7 523.1 L1199.7 520.7Z" fill="#8bcc00" stroke="#83cc00" stroke-width="5" stroke-linejoin="round" /><path d="M1198.6 524.3 L1209.2 519.5 L1215.1 527.8 L1216.3 542.0 L1209.2 551.5 L1202.1 549.1 L1200.9 536.1Z" fill="#8bcc00" stroke="#83cc00" stroke-width="5" stroke-linejoin="round" /><path d="M1271.8 527.1 L1284.6 535.6 L1301.6 538.8 L1314.4 536.7 L1327.2 546.3 L1337.9 552.7 L1350.6 544.2 L1363.4 539.9 L1365.6 531.4 L1352.8 527.1 L1335.7 525.0 L1314.4 522.9 L1293.1 520.7 L1276.1 520.7Z" fill="#7fcc00" /><path d="M1350.6 506.9 L1368.8 496.2 L1373.0 504.8 L1357.0 513.3Z" fill="#7fcc00" /><path d="M1284.6 471.7 L1293.1 441.9 L1301.6 416.3 L1314.4 399.3 L1331.5 382.3 L1348.5 365.2 L1365.6 350.3 L1382.6 341.8 L1399.6 335.4 L1416.7 343.9 L1433.7 352.4 L1450.8 365.2 L1467.8 371.6 L1484.9 380.1 L1501.9 390.8 L1510.4 407.8 L1506.2 429.1 L1497.6 450.4 L1480.6 463.2 L1463.6 471.7 L1450.8 484.5 L1448.6 505.8 L1442.2 525.0 L1431.6 539.9 L1410.3 544.2 L1389.0 539.9 L1369.8 531.4 L1357.0 535.6 L1340.0 544.2 L1327.2 535.6 L1314.4 520.7 L1301.6 510.1 L1291.0 493.0Z" fill="#a1b200" /><path d="M1314.4 602.3 L1357.0 606.5 L1399.6 606.5 L1442.2 589.5 L1467.8 563.9 L1480.6 538.3 L1484.9 589.5 L1463.6 619.3 L1438.0 640.6 L1410.3 653.4 L1378.3 657.6 L1346.4 653.4 L1322.9 636.3Z" fill="#a3b200" /><path d="M1227.1 512.8 L1235.6 506.4 L1246.3 521.3 L1250.5 532.0 L1265.4 534.1 L1280.3 541.5 L1297.4 538.3 L1314.4 543.7 L1331.5 551.1 L1350.6 556.5 L1365.6 568.2 L1380.5 572.4 L1397.5 581.0 L1412.4 593.7 L1420.9 589.5 L1423.1 602.3 L1412.4 610.8 L1395.4 615.0 L1378.3 619.3 L1363.4 615.0 L1352.8 606.5 L1342.1 600.1 L1327.2 596.9 L1310.2 592.7 L1293.1 590.5 L1278.2 587.3 L1267.6 578.8 L1259.0 570.3 L1250.5 563.9 L1237.7 555.4 L1229.2 534.1Z" fill="#a4b200" /><path d="M1301.6 493.0 L1303.8 467.5 L1310.2 441.9 L1318.7 424.9 L1327.2 412.1 L1344.3 407.8 L1357.0 399.3 L1369.8 395.0 L1380.5 386.5 L1391.1 382.3 L1403.9 386.5 L1420.9 388.6 L1431.6 399.3 L1444.4 401.4 L1459.3 400.4 L1469.9 407.8 L1474.2 424.9 L1467.8 441.9 L1459.3 450.4 L1448.6 456.8 L1442.2 471.7 L1444.4 493.0 L1448.6 514.3 L1442.2 531.4 L1431.6 542.0 L1416.7 546.3 L1399.6 544.2 L1386.9 537.8 L1378.3 531.4 L1365.6 527.1 L1357.0 516.5 L1346.4 512.2 L1331.5 514.3 L1314.4 512.2 L1303.8 505.8Z" fill="#ad9900" /><path d="M1239.9 546.9 L1250.5 536.2 L1265.4 540.5 L1280.3 546.9 L1297.4 542.6 L1314.4 549.0 L1331.5 557.5 L1348.5 561.8 L1361.3 572.4 L1378.3 576.7 L1393.3 585.2 L1397.5 593.7 L1389.0 602.3 L1374.1 604.4 L1357.0 598.0 L1344.3 593.7 L1327.2 591.6 L1310.2 587.3 L1293.1 585.2 L1276.1 581.0 L1261.2 572.4 L1250.5 559.7 L1242.0 553.3Z" fill="#bd8000" /><path d="M1260.1 337.5 L1276.1 333.3 L1288.9 337.5 L1293.1 350.3 L1288.9 365.2 L1282.5 375.9 L1276.1 384.4 L1269.7 378.0 L1265.4 365.2 L1261.2 352.4Z" fill="#b98000" /><path d="M1254.1 463.1 L1264.7 469.5 L1271.1 486.5 L1269.0 503.6 L1258.3 512.1 L1245.6 505.7 L1239.2 488.6 L1243.4 471.6Z" fill="#b88000" /><path d="M1223.4 506.5 L1230.5 507.7 L1240.0 518.3 L1243.5 527.8 L1232.9 532.5 L1225.8 537.3 L1223.4 518.3Z" fill="#b88000" /><path d="M1086.3 371.2 L1100.5 387.8 L1114.7 406.7 L1126.5 423.3 L1138.4 444.6 L1147.8 463.6 L1157.3 484.9 L1166.8 508.5 L1173.9 532.2 L1176.2 555.9 L1177.4 579.5 L1176.2 610.3 L1169.1 610.3 L1159.7 591.4 L1147.8 572.4 L1140.7 548.8 L1133.6 525.1 L1124.2 503.8 L1117.1 480.1 L1112.3 458.8 L1110.0 439.9 L1102.9 420.9 L1093.4 402.0 L1081.6 383.1 L1069.7 368.9Z" fill="#95e600" /><path d="M1117.1 428.0 L1128.9 439.9 L1140.7 456.4 L1147.8 473.0 L1152.6 492.0 L1162.0 510.9 L1169.1 532.2 L1171.5 553.5 L1173.9 574.8 L1176.2 598.5 L1166.8 596.1 L1157.3 574.8 L1147.8 553.5 L1140.7 532.2 L1131.3 508.5 L1124.2 487.2 L1119.4 465.9 L1117.1 444.6Z" fill="#aeb200" /><path d="M1457.2 751.4 L1463.6 734.3 L1474.2 721.6 L1482.7 710.9 L1489.1 713.0 L1489.1 740.7 L1476.3 749.3 L1463.6 757.8Z" fill="#bf8000" stroke="#9b8000" stroke-width="7" stroke-linejoin="round" /><path d="M1301.6 433.4 L1314.4 422.7 L1331.5 418.5 L1348.5 416.3 L1365.6 412.1 L1382.6 410.0 L1399.6 414.2 L1416.7 420.6 L1431.6 429.1 L1446.5 441.9 L1450.8 454.7 L1442.2 456.8 L1433.7 456.8 L1420.9 450.4 L1410.3 441.9 L1395.4 433.4 L1378.3 431.3 L1363.4 437.6 L1357.0 446.2 L1352.8 459.0 L1348.5 467.5 L1335.7 463.2 L1327.2 454.7 L1314.4 456.8 L1303.8 450.4Z" fill="#b59900" /><path d="M1222.8 506.4 L1231.3 504.3 L1239.9 519.2 L1242.0 527.7 L1235.6 529.8 L1227.1 519.2Z" fill="#c46600" /><path d="M1363.4 437.6 L1378.3 431.3 L1395.4 433.4 L1410.3 441.9 L1420.9 450.4 L1433.7 456.8 L1440.1 471.7 L1438.0 488.8 L1433.7 505.8 L1431.6 518.6 L1420.9 529.3 L1406.0 531.4 L1391.1 525.0 L1378.3 520.7 L1369.8 511.1 L1357.0 520.7 L1346.4 531.4 L1335.7 537.8 L1342.1 527.1 L1352.8 514.3 L1365.6 505.8 L1371.9 497.3 L1367.7 484.5 L1357.0 471.7 L1352.8 459.0 L1357.0 446.2Z" fill="#d64c00" /><path d="M1259.0 551.1 L1271.8 553.3 L1284.6 557.5 L1301.6 555.4 L1314.4 561.8 L1331.5 566.0 L1348.5 570.3 L1361.3 578.8 L1378.3 585.2 L1386.9 591.6 L1378.3 598.0 L1361.3 593.7 L1344.3 587.3 L1327.2 585.2 L1310.2 581.0 L1293.1 578.8 L1278.2 574.6 L1265.4 563.9Z" fill="#c38000" /><path d="M1265.4 343.9 L1276.1 341.8 L1284.6 350.3 L1282.5 365.2 L1276.1 375.9 L1270.8 369.5 L1267.6 356.7Z" fill="#c66600" /><polyline points="1219.2,108.1 1212.7,143.2 1210.5,169.4 1223.6,195.7 1232.4,222.0 1238.9,248.2 1236.8,278.9 1230.2,305.2" fill="none" stroke="#78cc00" stroke-width="14" stroke-linecap="round" stroke-linejoin="round" /><polyline points="1278.3,108.1 1277.0,147.5 1271.8,182.6 1263.0,208.8 1256.5,235.1 1252.1,257.0 1245.5,274.5" fill="none" stroke="#78cc00" stroke-width="14" stroke-linecap="round" stroke-linejoin="round" /><polyline points="1219.2,108.1 1212.7,143.2 1210.5,169.4 1223.6,195.7 1232.4,222.0 1238.9,248.2 1236.8,278.9 1230.2,305.2" fill="none" stroke="#7aff00" stroke-width="7" stroke-linecap="round" stroke-linejoin="round" /><polyline points="1278.3,108.1 1277.0,147.5 1271.8,182.6 1263.0,208.8 1256.5,235.1 1252.1,257.0 1245.5,274.5" fill="none" stroke="#7aff00" stroke-width="7" stroke-linecap="round" stroke-linejoin="round" /><polyline points="1219.2,108.1 1212.7,143.2 1210.5,169.4 1223.6,195.7 1232.4,222.0 1238.9,248.2 1236.8,278.9 1230.2,305.2" fill="none" stroke="#8cff00" stroke-width="3" stroke-linecap="round" stroke-linejoin="round" /><polyline points="1278.3,108.1 1277.0,147.5 1271.8,182.6 1263.0,208.8 1256.5,235.1 1252.1,257.0 1245.5,274.5" fill="none" stroke="#8cff00" stroke-width="3" stroke-linecap="round" stroke-linejoin="round" /><polyline points="1308.7,366.0 1311.7,356.0" fill="none" stroke="#90cc00" stroke-width="5" stroke-linecap="round" stroke-linejoin="round" /><polyline points="1314.0,379.8 1317.0,369.8" fill="none" stroke="#90cc00" stroke-width="5" stroke-linecap="round" stroke-linejoin="round" /><polyline points="1320.4,370.2 1323.4,360.2" fill="none" stroke="#90cc00" stroke-width="5" stroke-linecap="round" stroke-linejoin="round" /><polyline points="1304.4,392.6 1307.4,382.6" fill="none" stroke="#90cc00" stroke-width="5" stroke-linecap="round" stroke-linejoin="round" /><polyline points="1310.8,405.4 1313.8,395.4" fill="none" stroke="#90cc00" stroke-width="5" stroke-linecap="round" stroke-linejoin="round" /><polyline points="1322.5,395.8 1325.5,385.8" fill="none" stroke="#90cc00" stroke-width="5" stroke-linecap="round" stroke-linejoin="round" /><polyline points="1296.9,412.8 1299.9,402.8" fill="none" stroke="#90cc00" stroke-width="5" stroke-linecap="round" stroke-linejoin="round" /><polyline points="1305.5,421.3 1308.5,411.3" fill="none" stroke="#90cc00" stroke-width="5" stroke-linecap="round" stroke-linejoin="round" /><polyline points="1325.7,355.3 1328.7,345.3" fill="none" stroke="#90cc00" stroke-width="5" stroke-linecap="round" stroke-linejoin="round" /><polyline points="1334.2,374.5 1337.2,364.5" fill="none" stroke="#90cc00" stroke-width="5" stroke-linecap="round" stroke-linejoin="round" /><polyline points="1300.1,378.7 1303.1,368.7" fill="none" stroke="#90cc00" stroke-width="5" stroke-linecap="round" stroke-linejoin="round" /><ellipse cx="1052.9" cy="631.0" rx="6" ry="5" fill="#949900"/><ellipse cx="1193.0" cy="760.0" rx="5" ry="8" fill="#949900"/><ellipse cx="1263.0" cy="787.0" rx="5" ry="7" fill="#949900"/><ellipse cx="1289.3" cy="771.0" rx="5" ry="5" fill="#949900"/><ellipse cx="1394.3" cy="787.0" rx="8" ry="10" fill="#949900"/><ellipse cx="1185.3" cy="600.0" rx="5" ry="10" fill="#949900"/><ellipse cx="1167.3" cy="650.0" rx="5" ry="6" fill="#949900"/><ellipse cx="1205.3" cy="647.0" rx="5" ry="5" fill="#949900"/><path d="M1059.1 299.1 L1068.6 310.9 L1078.0 326.3 L1083.9 342.8 L1086.3 359.4 L1081.6 361.8 L1078.0 347.6 L1073.3 331.0 L1066.2 316.8 L1057.9 302.6Z" fill="#89ff00" stroke="#76ff00" stroke-width="8" stroke-linejoin="round" /><path d="M1060.3 364.1 L1083.9 361.8 L1091.0 373.6 L1079.2 383.1 L1067.4 373.6Z" fill="#8cff00" stroke="#76ff00" stroke-width="8" stroke-linejoin="round" />
</g>
</g>
<g clip-path="url(#dataTR)">
<line x1="1077.0" y1="103" x2="1077.0" y2="828" stroke="#fff" stroke-width="2.08" stroke-dasharray="2.08 3.43"/>
<line x1="1222.6" y1="103" x2="1222.6" y2="828" stroke="#fff" stroke-width="2.08" stroke-dasharray="2.08 3.43"/>
<line x1="1368.2" y1="103" x2="1368.2" y2="828" stroke="#fff" stroke-width="2.08" stroke-dasharray="2.08 3.43"/>
<line x1="1513.8" y1="103" x2="1513.8" y2="828" stroke="#fff" stroke-width="2.08" stroke-dasharray="2.08 3.43"/>
<line x1="1659.4" y1="103" x2="1659.4" y2="828" stroke="#fff" stroke-width="2.08" stroke-dasharray="2.08 3.43"/>
<line x1="972" y1="170.9" x2="1697" y2="170.9" stroke="#fff" stroke-width="2.08" stroke-dasharray="2.08 3.43"/>
<line x1="972" y1="316.5" x2="1697" y2="316.5" stroke="#fff" stroke-width="2.08" stroke-dasharray="2.08 3.43"/>
<line x1="972" y1="462.0" x2="1697" y2="462.0" stroke="#fff" stroke-width="2.08" stroke-dasharray="2.08 3.43"/>
<line x1="972" y1="607.6" x2="1697" y2="607.6" stroke="#fff" stroke-width="2.08" stroke-dasharray="2.08 3.43"/>
<line x1="972" y1="753.2" x2="1697" y2="753.2" stroke="#fff" stroke-width="2.08" stroke-dasharray="2.08 3.43"/>
</g>
<rect x="970.5" y="101.5" width="728" height="728" fill="none" stroke="#000" stroke-width="3"/>
<text x="928.00" y="175.20" font-size="14.12" textLength="33.60" lengthAdjust="spacingAndGlyphs" fill="#000">18°N</text>
<text x="928.00" y="320.80" font-size="14.12" textLength="33.60" lengthAdjust="spacingAndGlyphs" fill="#000">16°N</text>
<text x="928.00" y="466.30" font-size="14.12" textLength="33.60" lengthAdjust="spacingAndGlyphs" fill="#000">14°N</text>
<text x="928.00" y="611.90" font-size="14.12" textLength="33.60" lengthAdjust="spacingAndGlyphs" fill="#000">12°N</text>
<text x="928.00" y="757.50" font-size="14.12" textLength="33.60" lengthAdjust="spacingAndGlyphs" fill="#000">10°N</text>
<text x="1054.86" y="851.00" font-size="14.12" textLength="45.29" lengthAdjust="spacingAndGlyphs" fill="#000">130°W</text>
<text x="1200.46" y="851.00" font-size="14.12" textLength="45.29" lengthAdjust="spacingAndGlyphs" fill="#000">128°W</text>
<text x="1346.06" y="851.00" font-size="14.12" textLength="45.29" lengthAdjust="spacingAndGlyphs" fill="#000">126°W</text>
<text x="1491.66" y="851.00" font-size="14.12" textLength="45.29" lengthAdjust="spacingAndGlyphs" fill="#000">124°W</text>
<text x="1637.26" y="851.00" font-size="14.12" textLength="45.29" lengthAdjust="spacingAndGlyphs" fill="#000">122°W</text>
<text x="1322.50" y="39.20" font-size="18.33" textLength="374.80" lengthAdjust="spacingAndGlyphs" fill="#000">[dmax, dmin](BAND14)=(-12.925, -73.433)</text>
<text x="1353.71" y="60.00" font-size="18.33" textLength="343.59" lengthAdjust="spacingAndGlyphs" fill="#000">[dmax, dmin](AWV)=(-34.922, -72.353)</text>
<text x="1478.95" y="80.80" font-size="18.33" textLength="218.35" lengthAdjust="spacingAndGlyphs" fill="#000">11E.KIKO | 45kt, 1000mb</text>
<linearGradient id="cbWV" x1="0" y1="0" x2="0" y2="1"><stop offset="0.0000" stop-color="#ffffff"/><stop offset="0.3333" stop-color="#ffffff"/><stop offset="0.3333" stop-color="#681068"/><stop offset="0.3467" stop-color="#582878"/><stop offset="0.3667" stop-color="#4040a0"/><stop offset="0.3867" stop-color="#2858c8"/><stop offset="0.4000" stop-color="#2060d4"/><stop offset="0.4133" stop-color="#1070f0"/><stop offset="0.4267" stop-color="#0080ff"/><stop offset="0.4467" stop-color="#20a0ff"/><stop offset="0.4667" stop-color="#38b0ff"/><stop offset="0.4833" stop-color="#50d0ff"/><stop offset="0.5000" stop-color="#68e8ff"/><stop offset="0.5167" stop-color="#80ffff"/><stop offset="0.5333" stop-color="#80ffd0"/><stop offset="0.5500" stop-color="#80ffa0"/><stop offset="0.5667" stop-color="#80ff80"/><stop offset="0.5833" stop-color="#a8f870"/><stop offset="0.6000" stop-color="#d8f870"/><stop offset="0.6100" stop-color="#ffff78"/><stop offset="0.6267" stop-color="#ffe060"/><stop offset="0.6433" stop-color="#ffc850"/><stop offset="0.6667" stop-color="#ffa828"/><stop offset="0.6933" stop-color="#ff8000"/><stop offset="0.7133" stop-color="#e86800"/><stop offset="0.7333" stop-color="#d05000"/><stop offset="0.7667" stop-color="#a02800"/><stop offset="0.7933" stop-color="#800000"/><stop offset="1.0000" stop-color="#800000"/></linearGradient>
<rect x="1705.5" y="101.5" width="15.5" height="729" fill="url(#cbWV)" stroke="#000" stroke-width="1"/>
<text x="1728.50" y="156.00" font-size="16.56" textLength="19.88" lengthAdjust="spacingAndGlyphs" fill="#000">40</text>
<text x="1728.50" y="204.60" font-size="16.56" textLength="19.88" lengthAdjust="spacingAndGlyphs" fill="#000">30</text>
<text x="1728.50" y="253.20" font-size="16.56" textLength="19.88" lengthAdjust="spacingAndGlyphs" fill="#000">20</text>
<text x="1728.50" y="301.80" font-size="16.56" textLength="19.88" lengthAdjust="spacingAndGlyphs" fill="#000">10</text>
<text x="1728.50" y="350.40" font-size="16.56" textLength="9.94" lengthAdjust="spacingAndGlyphs" fill="#000">0</text>
<text x="1728.50" y="399.00" font-size="16.56" textLength="32.97" lengthAdjust="spacingAndGlyphs" fill="#000">−10</text>
<text x="1728.50" y="447.60" font-size="16.56" textLength="32.97" lengthAdjust="spacingAndGlyphs" fill="#000">−20</text>
<text x="1728.50" y="496.20" font-size="16.56" textLength="32.97" lengthAdjust="spacingAndGlyphs" fill="#000">−30</text>
<text x="1728.50" y="544.80" font-size="16.56" textLength="32.97" lengthAdjust="spacingAndGlyphs" fill="#000">−40</text>
<text x="1728.50" y="593.40" font-size="16.56" textLength="32.97" lengthAdjust="spacingAndGlyphs" fill="#000">−50</text>
<text x="1728.50" y="642.00" font-size="16.56" textLength="32.97" lengthAdjust="spacingAndGlyphs" fill="#000">−60</text>
<text x="1728.50" y="690.60" font-size="16.56" textLength="32.97" lengthAdjust="spacingAndGlyphs" fill="#000">−70</text>
<text x="1728.50" y="739.20" font-size="16.56" textLength="32.97" lengthAdjust="spacingAndGlyphs" fill="#000">−80</text>
<text x="1728.50" y="787.80" font-size="16.56" textLength="32.97" lengthAdjust="spacingAndGlyphs" fill="#000">−90</text>
<text x="1714.50" y="93.80" font-size="16.56" textLength="18.72" lengthAdjust="spacingAndGlyphs" fill="#000">°C</text>
</g>
<g id="bl">
<text x="0" y="0" font-size="1"></text>
<text x="311.41" y="881.50" font-size="23.84" textLength="318.19" lengthAdjust="spacingAndGlyphs" fill="#000">Wind / Pres. / ACE Diagnosis</text>
<clipPath id="clipW"><rect x="97" y="905" width="747" height="372"/></clipPath>
<clipPath id="clipA"><rect x="97" y="1280" width="747" height="372"/></clipPath>
<g clip-path="url(#clipW)">
<polyline points="129.60,1261.45 147.08,1261.45 164.56,1261.45 182.04,1261.45 199.52,1261.45 217.00,1261.45 234.48,1261.45 251.96,1261.45 269.44,1261.45 286.92,1261.45 304.40,1261.45 321.88,1235.23 339.36,1235.23 356.84,1235.23 374.32,1209.00 391.80,1182.78 409.28,1182.78 426.76,1156.55 444.24,1156.55 461.72,1130.33" fill="none" stroke="#0000ff" stroke-width="5.25" stroke-linejoin="round" stroke-linecap="square" />
<polyline points="461.72,1130.33 496.68,1051.65 531.64,972.98 566.60,946.75 601.56,920.53 671.48,920.53 741.40,920.53 811.32,920.53" fill="none" stroke="#0000ff" stroke-width="5.25" stroke-linejoin="round" stroke-linecap="butt" stroke-dasharray="5.25 8.66" stroke-dashoffset="2.4"/>
</g>
<rect x="104.6" y="912.7" width="266.2" height="62.6" rx="4.5" ry="4.5" fill="#fff" fill-opacity="0.8" stroke="#ccc" stroke-opacity="0.8" stroke-width="3"/>
<line x1="110" y1="928.3" x2="153" y2="928.3" stroke="#0000ff" stroke-width="5.25"/>
<line x1="112.65" y1="956.6" x2="150.35" y2="956.6" stroke="#0000ff" stroke-width="5.25" stroke-dasharray="5.25 8.66"/>
<text x="166.00" y="935.90" font-size="20.13" textLength="144.49" lengthAdjust="spacingAndGlyphs" fill="#000">Wind[max=45]</text>
<text x="166.00" y="964.00" font-size="20.13" textLength="198.62" lengthAdjust="spacingAndGlyphs" fill="#000">Wind Fore.[max=85]</text>
<g clip-path="url(#clipW)">
<polyline points="129.60,920.55 147.08,920.55 164.56,920.55 182.04,920.55 199.52,920.55 217.00,920.55 234.48,920.55 251.96,920.55 269.44,920.55 286.92,920.55 304.40,920.55 321.88,920.55 339.36,954.64 356.84,954.64 374.32,954.64 391.80,1022.82 409.28,1056.91 426.76,1125.09 444.24,1125.09 461.72,1261.45" fill="none" stroke="#1f77b4" stroke-width="5.25" stroke-linejoin="round" stroke-linecap="square" />
</g>
<rect x="604.6" y="912.7" width="230.8" height="34.8" rx="4.5" ry="4.5" fill="#fff" fill-opacity="0.8" stroke="#ccc" stroke-opacity="0.8" stroke-width="3"/>
<line x1="610" y1="928.3" x2="653" y2="928.3" stroke="#1f77b4" stroke-width="5.25"/>
<text x="666.00" y="935.90" font-size="20.13" textLength="161.82" lengthAdjust="spacingAndGlyphs" fill="#000">Pres.[min=1000]</text>
<g clip-path="url(#clipA)">
<polyline points="129.60,1636.45 147.08,1636.45 164.56,1636.45 182.04,1636.45 199.52,1636.45 217.00,1636.45 234.48,1636.45 251.96,1636.45 269.44,1636.45 286.92,1636.45 304.40,1636.45 321.88,1636.45 339.36,1636.45 356.84,1636.45 374.32,1636.45 391.80,1633.41 409.28,1630.37 426.76,1626.40 444.24,1622.43 461.72,1617.40" fill="none" stroke="#008000" stroke-width="5.25" stroke-linejoin="round" stroke-linecap="square" />
<polyline points="461.72,1617.40 479.20,1610.56 496.68,1601.62 514.16,1590.32 531.64,1576.35 549.12,1561.45 566.60,1545.56 584.08,1528.67 601.56,1510.74 619.04,1492.80 636.52,1474.87 654.00,1456.94 671.48,1439.01 688.96,1421.07 706.44,1403.14 723.92,1385.21 741.40,1367.28 758.88,1349.34 776.36,1331.41 793.84,1313.48 811.32,1295.55" fill="none" stroke="#008000" stroke-width="5.25" stroke-linejoin="round" stroke-linecap="butt" stroke-dasharray="5.25 8.66" stroke-dashoffset="3.7"/>
</g>
<rect x="104.6" y="1287.7" width="300.5" height="62.6" rx="4.5" ry="4.5" fill="#fff" fill-opacity="0.8" stroke="#ccc" stroke-opacity="0.8" stroke-width="3"/>
<line x1="110" y1="1303.5" x2="153" y2="1303.5" stroke="#008000" stroke-width="5.25"/>
<line x1="112.65" y1="1331.8" x2="150.35" y2="1331.8" stroke="#008000" stroke-width="5.25" stroke-dasharray="5.25 8.66"/>
<text x="166.00" y="1311.10" font-size="20.13" textLength="176.89" lengthAdjust="spacingAndGlyphs" fill="#000">ACE[max=0.7675]</text>
<text x="166.00" y="1339.20" font-size="20.13" textLength="231.02" lengthAdjust="spacingAndGlyphs" fill="#000">ACE Fore.[max=13.735]</text>
<rect x="95.5" y="903.5" width="750" height="750" fill="none" stroke="#000" stroke-width="3"/>
<line x1="94" y1="1278.5" x2="847" y2="1278.5" stroke="#000" stroke-width="3"/>
<line x1="83.3" y1="1261.45" x2="94" y2="1261.45" stroke="#000" stroke-width="3"/>
<text x="53.44" y="1266.30" font-size="14.12" textLength="16.96" lengthAdjust="spacingAndGlyphs" fill="#000">20</text>
<line x1="83.3" y1="1209.00" x2="94" y2="1209.00" stroke="#000" stroke-width="3"/>
<text x="53.44" y="1213.85" font-size="14.12" textLength="16.96" lengthAdjust="spacingAndGlyphs" fill="#000">30</text>
<line x1="83.3" y1="1156.55" x2="94" y2="1156.55" stroke="#000" stroke-width="3"/>
<text x="53.44" y="1161.40" font-size="14.12" textLength="16.96" lengthAdjust="spacingAndGlyphs" fill="#000">40</text>
<line x1="83.3" y1="1104.10" x2="94" y2="1104.10" stroke="#000" stroke-width="3"/>
<text x="53.44" y="1108.95" font-size="14.12" textLength="16.96" lengthAdjust="spacingAndGlyphs" fill="#000">50</text>
<line x1="83.3" y1="1051.65" x2="94" y2="1051.65" stroke="#000" stroke-width="3"/>
<text x="53.44" y="1056.50" font-size="14.12" textLength="16.96" lengthAdjust="spacingAndGlyphs" fill="#000">60</text>
<line x1="83.3" y1="999.20" x2="94" y2="999.20" stroke="#000" stroke-width="3"/>
<text x="53.44" y="1004.05" font-size="14.12" textLength="16.96" lengthAdjust="spacingAndGlyphs" fill="#000">70</text>
<line x1="83.3" y1="946.75" x2="94" y2="946.75" stroke="#000" stroke-width="3"/>
<text x="53.44" y="951.60" font-size="14.12" textLength="16.96" lengthAdjust="spacingAndGlyphs" fill="#000">80</text>
<line x1="847" y1="1261.45" x2="857.7" y2="1261.45" stroke="#000" stroke-width="3"/>
<text x="870.00" y="1266.30" font-size="14.12" textLength="33.92" lengthAdjust="spacingAndGlyphs" fill="#000">1000</text>
<line x1="847" y1="1193.27" x2="857.7" y2="1193.27" stroke="#000" stroke-width="3"/>
<text x="870.00" y="1198.12" font-size="14.12" textLength="33.92" lengthAdjust="spacingAndGlyphs" fill="#000">1002</text>
<line x1="847" y1="1125.09" x2="857.7" y2="1125.09" stroke="#000" stroke-width="3"/>
<text x="870.00" y="1129.94" font-size="14.12" textLength="33.92" lengthAdjust="spacingAndGlyphs" fill="#000">1004</text>
<line x1="847" y1="1056.91" x2="857.7" y2="1056.91" stroke="#000" stroke-width="3"/>
<text x="870.00" y="1061.76" font-size="14.12" textLength="33.92" lengthAdjust="spacingAndGlyphs" fill="#000">1006</text>
<line x1="847" y1="988.73" x2="857.7" y2="988.73" stroke="#000" stroke-width="3"/>
<text x="870.00" y="993.58" font-size="14.12" textLength="33.92" lengthAdjust="spacingAndGlyphs" fill="#000">1008</text>
<line x1="847" y1="920.55" x2="857.7" y2="920.55" stroke="#000" stroke-width="3"/>
<text x="870.00" y="925.40" font-size="14.12" textLength="33.92" lengthAdjust="spacingAndGlyphs" fill="#000">1010</text>
<line x1="83.3" y1="1636.45" x2="94" y2="1636.45" stroke="#000" stroke-width="3"/>
<text x="61.92" y="1641.30" font-size="14.12" textLength="8.48" lengthAdjust="spacingAndGlyphs" fill="#000">0</text>
<line x1="83.3" y1="1586.81" x2="94" y2="1586.81" stroke="#000" stroke-width="3"/>
<text x="61.92" y="1591.66" font-size="14.12" textLength="8.48" lengthAdjust="spacingAndGlyphs" fill="#000">2</text>
<line x1="83.3" y1="1537.17" x2="94" y2="1537.17" stroke="#000" stroke-width="3"/>
<text x="61.92" y="1542.02" font-size="14.12" textLength="8.48" lengthAdjust="spacingAndGlyphs" fill="#000">4</text>
<line x1="83.3" y1="1487.53" x2="94" y2="1487.53" stroke="#000" stroke-width="3"/>
<text x="61.92" y="1492.38" font-size="14.12" textLength="8.48" lengthAdjust="spacingAndGlyphs" fill="#000">6</text>
<line x1="83.3" y1="1437.89" x2="94" y2="1437.89" stroke="#000" stroke-width="3"/>
<text x="61.92" y="1442.74" font-size="14.12" textLength="8.48" lengthAdjust="spacingAndGlyphs" fill="#000">8</text>
<line x1="83.3" y1="1388.25" x2="94" y2="1388.25" stroke="#000" stroke-width="3"/>
<text x="53.44" y="1393.10" font-size="14.12" textLength="16.96" lengthAdjust="spacingAndGlyphs" fill="#000">10</text>
<line x1="83.3" y1="1338.61" x2="94" y2="1338.61" stroke="#000" stroke-width="3"/>
<text x="53.44" y="1343.46" font-size="14.12" textLength="16.96" lengthAdjust="spacingAndGlyphs" fill="#000">12</text>
<line x1="83.3" y1="1288.97" x2="94" y2="1288.97" stroke="#000" stroke-width="3"/>
<text x="53.44" y="1293.82" font-size="14.12" textLength="16.96" lengthAdjust="spacingAndGlyphs" fill="#000">14</text>
<g transform="translate(34.6,1091.5) rotate(-90)">
<text x="-16.90" y="0.00" font-size="14.12" textLength="33.79" lengthAdjust="spacingAndGlyphs" fill="#000">Wind</text>
</g>
<g transform="translate(34.6,1466.5) rotate(-90)">
<text x="-13.42" y="0.00" font-size="14.12" textLength="26.85" lengthAdjust="spacingAndGlyphs" fill="#000">ACE</text>
</g>
<g transform="translate(929.6,1093) rotate(-90)">
<text x="-28.87" y="0.00" font-size="14.12" textLength="57.74" lengthAdjust="spacingAndGlyphs" fill="#000">Pressure</text>
</g>
</g>
<g id="br">
<clipPath id="clipBR"><rect x="972" y="905" width="747" height="747"/></clipPath>
<g clip-path="url(#clipBR)" shape-rendering="crispEdges">
<rect x="970" y="903" width="751" height="751" fill="#a0a0a0"/>
<polygon points="969.8,892.4 998.6,892.2 997.9,906.4 969.1,906.6" fill="#3c3c3c"/>
<polygon points="998.6,892.2 1027.5,892.0 1026.7,906.2 997.9,906.4" fill="#707070"/>
<polygon points="1027.5,892.0 1056.3,891.8 1055.5,906.0 1026.7,906.2" fill="#3c3c3c"/>
<polygon points="1056.3,891.8 1099.5,891.4 1098.7,905.7 1055.5,906.0" fill="#707070"/>
<polygon points="969.1,906.6 983.5,906.5 982.7,920.8 968.3,920.9" fill="#c9c9c9"/>
<polygon points="983.5,906.5 997.9,906.4 997.1,920.7 982.7,920.8" fill="#3c3c3c"/>
<polygon points="997.9,906.4 1026.7,906.2 1025.9,920.5 997.1,920.7" fill="#707070"/>
<polygon points="1026.7,906.2 1055.5,906.0 1054.7,920.3 1025.9,920.5" fill="#3c3c3c"/>
<polygon points="1055.5,906.0 1098.7,905.7 1097.9,920.0 1054.7,920.3" fill="#707070"/>
<polygon points="968.3,920.9 982.7,920.8 982.0,935.1 967.6,935.2" fill="#3c3c3c"/>
<polygon points="982.7,920.8 1025.9,920.5 1025.2,934.8 982.0,935.1" fill="#707070"/>
<polygon points="1025.9,920.5 1040.3,920.4 1039.6,934.7 1025.2,934.8" fill="#3c3c3c"/>
<polygon points="1040.3,920.4 1097.9,920.0 1097.2,934.3 1039.6,934.7" fill="#707070"/>
<polygon points="1342.8,918.3 1357.2,918.2 1356.4,932.5 1342.0,932.6" fill="#707070"/>
<polygon points="967.6,935.2 982.0,935.1 981.2,949.4 966.8,949.5" fill="#3c3c3c"/>
<polygon points="982.0,935.1 1025.2,934.8 1024.4,949.1 981.2,949.4" fill="#707070"/>
<polygon points="1025.2,934.8 1039.6,934.7 1038.8,949.0 1024.4,949.1" fill="#3c3c3c"/>
<polygon points="1039.6,934.7 1097.2,934.3 1096.4,948.6 1038.8,949.0" fill="#707070"/>
<polygon points="1342.0,932.6 1356.4,932.5 1355.6,946.8 1341.2,946.9" fill="#707070"/>
<polygon points="1687.6,930.2 1702.0,930.1 1701.2,944.4 1686.8,944.5" fill="#000"/>
<polygon points="966.8,949.5 981.2,949.4 980.5,963.7 966.1,963.8" fill="#3c3c3c"/>
<polygon points="981.2,949.4 1024.4,949.1 1023.7,963.4 980.5,963.7" fill="#707070"/>
<polygon points="1024.4,949.1 1038.8,949.0 1038.0,963.3 1023.7,963.4" fill="#3c3c3c"/>
<polygon points="1038.8,949.0 1096.4,948.6 1095.6,962.9 1038.0,963.3" fill="#707070"/>
<polygon points="1197.2,947.9 1211.6,947.8 1210.8,962.1 1196.4,962.2" fill="#000"/>
<polygon points="1341.2,946.9 1355.6,946.8 1354.8,961.1 1340.4,961.2" fill="#707070"/>
<polygon points="1672.4,944.6 1715.5,944.3 1714.7,958.6 1671.5,958.9" fill="#000"/>
<polygon points="966.1,963.8 1038.0,963.3 1037.3,977.6 965.3,978.1" fill="#3c3c3c"/>
<polygon points="1038.0,963.3 1081.2,963.0 1080.5,977.3 1037.3,977.6" fill="#707070"/>
<polygon points="1182.0,962.3 1225.2,962.0 1224.4,976.3 1181.2,976.6" fill="#000"/>
<polygon points="1398.0,960.8 1426.8,960.6 1426.0,974.9 1397.2,975.1" fill="#000"/>
<polygon points="1671.5,958.9 1729.1,958.5 1728.3,972.8 1670.7,973.2" fill="#000"/>
<polygon points="965.3,978.1 1022.9,977.7 1022.1,992.0 964.6,992.4" fill="#3c3c3c"/>
<polygon points="1022.9,977.7 1080.5,977.3 1079.7,991.6 1022.1,992.0" fill="#707070"/>
<polygon points="1181.2,976.6 1238.8,976.2 1238.1,990.5 1180.5,990.9" fill="#000"/>
<polygon points="1411.6,975.0 1454.8,974.7 1454.0,989.0 1410.8,989.3" fill="#000"/>
<polygon points="1526.8,974.2 1541.1,974.1 1540.3,988.4 1525.9,988.5" fill="#707070"/>
<polygon points="1569.9,973.9 1584.3,973.8 1583.5,988.1 1569.1,988.2" fill="#000"/>
<polygon points="1656.3,973.3 1685.1,973.1 1684.3,987.3 1655.5,987.6" fill="#000"/>
<polygon points="1685.1,973.1 1713.9,972.9 1713.1,987.1 1684.3,987.3" fill="#fff"/>
<polygon points="1713.9,972.9 1728.3,972.8 1727.5,987.0 1713.1,987.1" fill="#000"/>
<polygon points="964.6,992.4 993.3,992.2 992.6,1006.5 963.8,1006.7" fill="#3c3c3c"/>
<polygon points="993.3,992.2 1036.5,991.9 1035.8,1006.2 992.6,1006.5" fill="#707070"/>
<polygon points="1050.9,991.8 1079.7,991.6 1078.9,1005.9 1050.2,1006.1" fill="#707070"/>
<polygon points="1180.5,990.9 1252.4,990.4 1251.7,1004.7 1179.7,1005.2" fill="#000"/>
<polygon points="1425.2,989.2 1468.4,988.9 1467.6,1003.2 1424.4,1003.5" fill="#000"/>
<polygon points="1626.7,987.8 1655.5,987.6 1654.7,1001.8 1625.9,1002.0" fill="#000"/>
<polygon points="1655.5,987.6 1727.5,987.0 1726.7,1001.3 1654.7,1001.8" fill="#fff"/>
<polygon points="963.8,1006.7 1021.4,1006.3 1020.6,1020.6 963.0,1021.0" fill="#3c3c3c"/>
<polygon points="1021.4,1006.3 1078.9,1005.9 1078.2,1020.2 1020.6,1020.6" fill="#707070"/>
<polygon points="1179.7,1005.2 1251.7,1004.7 1250.9,1019.0 1178.9,1019.5" fill="#000"/>
<polygon points="1381.2,1003.8 1424.4,1003.5 1423.6,1017.7 1380.4,1018.0" fill="#000"/>
<polygon points="1453.2,1003.3 1482.0,1003.1 1481.2,1017.3 1452.4,1017.5" fill="#000"/>
<polygon points="1597.1,1002.2 1654.7,1001.8 1653.9,1016.1 1596.3,1016.5" fill="#000"/>
<polygon points="1654.7,1001.8 1726.7,1001.3 1725.8,1015.6 1653.9,1016.1" fill="#fff"/>
<polygon points="963.0,1021.0 1020.6,1020.6 1019.9,1034.9 962.3,1035.3" fill="#3c3c3c"/>
<polygon points="1020.6,1020.6 1078.2,1020.2 1077.4,1034.5 1019.9,1034.9" fill="#707070"/>
<polygon points="1164.5,1019.6 1250.9,1019.0 1250.1,1033.2 1163.8,1033.8" fill="#000"/>
<polygon points="1366.0,1018.1 1438.0,1017.6 1437.2,1031.9 1365.2,1032.4" fill="#000"/>
<polygon points="1452.4,1017.5 1495.6,1017.2 1494.7,1031.5 1451.6,1031.8" fill="#000"/>
<polygon points="1596.3,1016.5 1653.9,1016.1 1653.1,1030.4 1595.5,1030.8" fill="#000"/>
<polygon points="1653.9,1016.1 1725.8,1015.6 1725.0,1029.9 1653.1,1030.4" fill="#fff"/>
<polygon points="962.3,1035.3 976.7,1035.2 975.9,1049.4 961.5,1049.5" fill="#3c3c3c"/>
<polygon points="976.7,1035.2 991.1,1035.1 990.3,1049.3 975.9,1049.4" fill="#707070"/>
<polygon points="991.1,1035.1 1005.5,1035.0 1004.7,1049.2 990.3,1049.3" fill="#3c3c3c"/>
<polygon points="1005.5,1035.0 1077.4,1034.5 1076.7,1048.7 1004.7,1049.2" fill="#707070"/>
<polygon points="1163.8,1033.8 1250.1,1033.2 1249.3,1047.5 1163.0,1048.1" fill="#000"/>
<polygon points="1365.2,1032.4 1494.7,1031.5 1493.9,1045.8 1364.4,1046.7" fill="#000"/>
<polygon points="1581.1,1030.9 1595.5,1030.8 1594.7,1045.1 1580.3,1045.2" fill="#000"/>
<polygon points="1624.3,1030.6 1653.1,1030.4 1652.2,1044.7 1623.5,1044.9" fill="#000"/>
<polygon points="1653.1,1030.4 1725.0,1029.9 1724.2,1044.2 1652.2,1044.7" fill="#fff"/>
<polygon points="961.5,1049.5 990.3,1049.3 989.6,1063.6 960.8,1063.8" fill="#707070"/>
<polygon points="990.3,1049.3 1004.7,1049.2 1003.9,1063.5 989.6,1063.6" fill="#3c3c3c"/>
<polygon points="1004.7,1049.2 1091.0,1048.6 1090.3,1062.9 1003.9,1063.5" fill="#707070"/>
<polygon points="1163.0,1048.1 1249.3,1047.5 1248.5,1061.8 1162.2,1062.4" fill="#000"/>
<polygon points="1364.4,1046.7 1436.4,1046.2 1435.6,1060.5 1363.6,1061.0" fill="#000"/>
<polygon points="1450.8,1046.1 1493.9,1045.8 1493.1,1060.1 1450.0,1060.4" fill="#000"/>
<polygon points="1565.9,1045.3 1594.7,1045.1 1593.9,1059.4 1565.1,1059.6" fill="#000"/>
<polygon points="1609.1,1045.0 1681.0,1044.5 1680.2,1058.8 1608.3,1059.3" fill="#000"/>
<polygon points="1681.0,1044.5 1724.2,1044.2 1723.4,1058.5 1680.2,1058.8" fill="#fff"/>
<polygon points="960.8,1063.8 989.6,1063.6 988.8,1077.9 960.0,1078.1" fill="#707070"/>
<polygon points="989.6,1063.6 1018.3,1063.4 1017.6,1077.7 988.8,1077.9" fill="#3c3c3c"/>
<polygon points="1018.3,1063.4 1090.3,1062.9 1089.5,1077.2 1017.6,1077.7" fill="#707070"/>
<polygon points="1162.2,1062.4 1219.8,1062.0 1219.0,1076.3 1161.4,1076.7" fill="#000"/>
<polygon points="1306.1,1061.4 1320.5,1061.3 1319.7,1075.6 1305.3,1075.7" fill="#707070"/>
<polygon points="1378.0,1060.9 1478.8,1060.2 1478.0,1074.5 1377.2,1075.2" fill="#000"/>
<polygon points="1593.9,1059.4 1637.0,1059.1 1636.2,1073.4 1593.1,1073.7" fill="#000"/>
<polygon points="1637.0,1059.1 1651.4,1059.0 1650.6,1073.3 1636.2,1073.4" fill="#fff"/>
<polygon points="1651.4,1059.0 1665.8,1058.9 1665.0,1073.2 1650.6,1073.3" fill="#000"/>
<polygon points="1665.8,1058.9 1723.4,1058.5 1722.5,1072.8 1665.0,1073.2" fill="#fff"/>
<polygon points="960.0,1078.1 1032.0,1077.6 1031.2,1091.9 959.3,1092.4" fill="#3c3c3c"/>
<polygon points="1032.0,1077.6 1089.5,1077.2 1088.7,1091.5 1031.2,1091.9" fill="#707070"/>
<polygon points="1175.8,1076.6 1204.6,1076.4 1203.8,1090.7 1175.1,1090.9" fill="#000"/>
<polygon points="1305.3,1075.7 1319.7,1075.6 1318.9,1089.9 1304.5,1090.0" fill="#707070"/>
<polygon points="1362.9,1075.3 1434.8,1074.8 1434.0,1089.1 1362.1,1089.6" fill="#000"/>
<polygon points="1593.1,1073.7 1621.8,1073.5 1621.0,1087.8 1592.2,1088.0" fill="#000"/>
<polygon points="1621.8,1073.5 1722.5,1072.8 1721.7,1087.1 1621.0,1087.8" fill="#fff"/>
<polygon points="959.3,1092.4 988.0,1092.2 987.3,1106.5 958.5,1106.7" fill="#3c3c3c"/>
<polygon points="988.0,1092.2 1002.4,1092.1 1001.7,1106.4 987.3,1106.5" fill="#707070"/>
<polygon points="1002.4,1092.1 1045.6,1091.8 1044.8,1106.1 1001.7,1106.4" fill="#3c3c3c"/>
<polygon points="1045.6,1091.8 1088.7,1091.5 1088.0,1105.8 1044.8,1106.1" fill="#707070"/>
<polygon points="1362.1,1089.6 1434.0,1089.1 1433.2,1103.4 1361.3,1103.9" fill="#000"/>
<polygon points="1577.9,1088.1 1621.0,1087.8 1620.2,1102.1 1577.0,1102.4" fill="#000"/>
<polygon points="1621.0,1087.8 1664.2,1087.5 1663.4,1101.8 1620.2,1102.1" fill="#fff"/>
<polygon points="1664.2,1087.5 1678.6,1087.4 1677.7,1101.7 1663.4,1101.8" fill="#000"/>
<polygon points="1678.6,1087.4 1721.7,1087.1 1720.9,1101.4 1677.7,1101.7" fill="#fff"/>
<polygon points="958.5,1106.7 1016.1,1106.3 1015.3,1120.6 957.8,1121.0" fill="#707070"/>
<polygon points="1016.1,1106.3 1030.4,1106.2 1029.7,1120.5 1015.3,1120.6" fill="#3c3c3c"/>
<polygon points="1030.4,1106.2 1102.4,1105.7 1101.6,1120.0 1029.7,1120.5" fill="#707070"/>
<polygon points="1231.8,1104.8 1246.2,1104.7 1245.4,1119.0 1231.0,1119.1" fill="#000"/>
<polygon points="1361.3,1103.9 1404.4,1103.6 1403.6,1117.9 1360.5,1118.2" fill="#000"/>
<polygon points="1418.8,1103.5 1433.2,1103.4 1432.4,1117.7 1418.0,1117.8" fill="#000"/>
<polygon points="1577.0,1102.4 1620.2,1102.1 1619.4,1116.4 1576.2,1116.7" fill="#000"/>
<polygon points="1620.2,1102.1 1720.9,1101.4 1720.1,1115.7 1619.4,1116.4" fill="#fff"/>
<polygon points="972.1,1120.9 1015.3,1120.6 1014.5,1134.9 971.4,1135.2" fill="#707070"/>
<polygon points="1015.3,1120.6 1044.1,1120.4 1043.3,1134.7 1014.5,1134.9" fill="#3c3c3c"/>
<polygon points="1044.1,1120.4 1072.8,1120.2 1072.1,1134.5 1043.3,1134.7" fill="#707070"/>
<polygon points="1360.5,1118.2 1403.6,1117.9 1402.8,1132.2 1359.7,1132.5" fill="#000"/>
<polygon points="1475.5,1117.4 1518.7,1117.1 1517.9,1131.4 1474.7,1131.7" fill="#707070"/>
<polygon points="1576.2,1116.7 1619.4,1116.4 1618.6,1130.7 1575.4,1131.0" fill="#000"/>
<polygon points="1619.4,1116.4 1720.1,1115.7 1719.2,1130.0 1618.6,1130.7" fill="#fff"/>
<polygon points="971.4,1135.2 1028.9,1134.8 1028.2,1149.1 970.6,1149.5" fill="#707070"/>
<polygon points="1028.9,1134.8 1043.3,1134.7 1042.5,1149.0 1028.2,1149.1" fill="#3c3c3c"/>
<polygon points="1043.3,1134.7 1086.4,1134.4 1085.7,1148.7 1042.5,1149.0" fill="#707070"/>
<polygon points="1345.3,1132.6 1359.7,1132.5 1358.9,1146.8 1344.5,1146.9" fill="#000"/>
<polygon points="1374.1,1132.4 1417.2,1132.1 1416.4,1146.4 1373.3,1146.7" fill="#000"/>
<polygon points="1489.1,1131.6 1517.9,1131.4 1517.1,1145.7 1488.3,1145.9" fill="#707070"/>
<polygon points="1546.7,1131.2 1561.0,1131.1 1560.2,1145.4 1545.9,1145.5" fill="#000"/>
<polygon points="1575.4,1131.0 1633.0,1130.6 1632.1,1144.9 1574.6,1145.3" fill="#000"/>
<polygon points="1633.0,1130.6 1719.2,1130.0 1718.4,1144.2 1632.1,1144.9" fill="#fff"/>
<polygon points="970.6,1149.5 999.4,1149.3 998.6,1163.6 969.9,1163.8" fill="#707070"/>
<polygon points="1013.8,1149.2 1028.2,1149.1 1027.4,1163.4 1013.0,1163.5" fill="#707070"/>
<polygon points="1028.2,1149.1 1042.5,1149.0 1041.8,1163.3 1027.4,1163.4" fill="#3c3c3c"/>
<polygon points="1042.5,1149.0 1071.3,1148.8 1070.5,1163.1 1041.8,1163.3" fill="#707070"/>
<polygon points="1387.7,1146.6 1416.4,1146.4 1415.6,1160.7 1386.9,1160.9" fill="#000"/>
<polygon points="1502.7,1145.8 1646.5,1144.7 1645.7,1159.0 1501.9,1160.0" fill="#000"/>
<polygon points="1646.5,1144.7 1660.9,1144.6 1660.1,1158.9 1645.7,1159.0" fill="#fff"/>
<polygon points="1660.9,1144.6 1689.7,1144.4 1688.8,1158.7 1660.1,1158.9" fill="#000"/>
<polygon points="1689.7,1144.4 1718.4,1144.2 1717.6,1158.5 1688.8,1158.7" fill="#fff"/>
<polygon points="969.9,1163.8 1070.5,1163.1 1069.8,1177.4 969.1,1178.1" fill="#707070"/>
<polygon points="1386.9,1160.9 1415.6,1160.7 1414.8,1174.9 1386.1,1175.1" fill="#000"/>
<polygon points="1487.5,1160.1 1516.3,1159.9 1515.5,1174.2 1486.7,1174.4" fill="#000"/>
<polygon points="1516.3,1159.9 1545.0,1159.7 1544.2,1174.0 1515.5,1174.2" fill="#fff"/>
<polygon points="1545.0,1159.7 1645.7,1159.0 1644.9,1173.3 1544.2,1174.0" fill="#000"/>
<polygon points="1645.7,1159.0 1674.5,1158.8 1673.6,1173.1 1644.9,1173.3" fill="#fff"/>
<polygon points="1674.5,1158.8 1688.8,1158.7 1688.0,1173.0 1673.6,1173.1" fill="#000"/>
<polygon points="1688.8,1158.7 1732.0,1158.4 1731.2,1172.7 1688.0,1173.0" fill="#fff"/>
<polygon points="969.1,1178.1 1012.3,1177.8 1011.5,1192.0 968.4,1192.4" fill="#707070"/>
<polygon points="1041.0,1177.6 1069.8,1177.4 1069.0,1191.6 1040.2,1191.8" fill="#707070"/>
<polygon points="1328.6,1175.5 1357.3,1175.3 1356.5,1189.6 1327.8,1189.8" fill="#000"/>
<polygon points="1472.3,1174.5 1501.1,1174.3 1500.3,1188.6 1471.5,1188.8" fill="#000"/>
<polygon points="1501.1,1174.3 1558.6,1173.9 1557.8,1188.2 1500.3,1188.6" fill="#fff"/>
<polygon points="1558.6,1173.9 1644.9,1173.3 1644.1,1187.6 1557.8,1188.2" fill="#000"/>
<polygon points="1644.9,1173.3 1731.2,1172.7 1730.3,1187.0 1644.1,1187.6" fill="#fff"/>
<polygon points="968.4,1192.4 1011.5,1192.0 1010.7,1206.3 967.6,1206.6" fill="#707070"/>
<polygon points="1040.2,1191.8 1083.4,1191.5 1082.6,1205.8 1039.5,1206.1" fill="#707070"/>
<polygon points="1327.8,1189.8 1342.2,1189.7 1341.4,1204.0 1327.0,1204.1" fill="#000"/>
<polygon points="1471.5,1188.8 1500.3,1188.6 1499.5,1202.9 1470.7,1203.1" fill="#000"/>
<polygon points="1500.3,1188.6 1557.8,1188.2 1557.0,1202.5 1499.5,1202.9" fill="#fff"/>
<polygon points="1557.8,1188.2 1629.7,1187.7 1628.9,1202.0 1557.0,1202.5" fill="#000"/>
<polygon points="1629.7,1187.7 1730.3,1187.0 1729.5,1201.3 1628.9,1202.0" fill="#fff"/>
<polygon points="967.6,1206.6 982.0,1206.5 981.2,1220.8 966.9,1220.9" fill="#707070"/>
<polygon points="1053.9,1206.0 1097.0,1205.7 1096.2,1220.0 1053.1,1220.3" fill="#707070"/>
<polygon points="1312.6,1204.2 1327.0,1204.1 1326.2,1218.4 1311.8,1218.5" fill="#000"/>
<polygon points="1398.9,1203.6 1427.6,1203.4 1426.8,1217.7 1398.1,1217.9" fill="#707070"/>
<polygon points="1442.0,1203.3 1456.4,1203.2 1455.6,1217.5 1441.2,1217.6" fill="#000"/>
<polygon points="1485.1,1203.0 1499.5,1202.9 1498.7,1217.2 1484.3,1217.3" fill="#000"/>
<polygon points="1499.5,1202.9 1557.0,1202.5 1556.2,1216.8 1498.7,1217.2" fill="#fff"/>
<polygon points="1557.0,1202.5 1614.5,1202.1 1613.7,1216.4 1556.2,1216.8" fill="#000"/>
<polygon points="1614.5,1202.1 1729.5,1201.3 1728.7,1215.6 1613.7,1216.4" fill="#fff"/>
<polygon points="966.9,1220.9 995.6,1220.7 994.8,1235.0 966.1,1235.2" fill="#707070"/>
<polygon points="1053.1,1220.3 1110.6,1219.9 1109.8,1234.2 1052.3,1234.6" fill="#707070"/>
<polygon points="1311.8,1218.5 1340.6,1218.3 1339.8,1232.6 1311.0,1232.8" fill="#000"/>
<polygon points="1398.1,1217.9 1412.4,1217.8 1411.6,1232.1 1397.3,1232.2" fill="#707070"/>
<polygon points="1441.2,1217.6 1455.6,1217.5 1454.8,1231.8 1440.4,1231.9" fill="#000"/>
<polygon points="1484.3,1217.3 1513.1,1217.1 1512.3,1231.4 1483.5,1231.6" fill="#000"/>
<polygon points="1513.1,1217.1 1541.8,1216.9 1541.0,1231.2 1512.3,1231.4" fill="#fff"/>
<polygon points="1541.8,1216.9 1613.7,1216.4 1612.9,1230.7 1541.0,1231.2" fill="#000"/>
<polygon points="1613.7,1216.4 1728.7,1215.6 1727.9,1229.9 1612.9,1230.7" fill="#fff"/>
<polygon points="966.1,1235.2 980.5,1235.1 979.7,1249.4 965.3,1249.5" fill="#3c3c3c"/>
<polygon points="980.5,1235.1 1023.6,1234.8 1022.8,1249.1 979.7,1249.4" fill="#707070"/>
<polygon points="1066.7,1234.5 1081.1,1234.4 1080.3,1248.7 1065.9,1248.8" fill="#707070"/>
<polygon points="1081.1,1234.4 1095.5,1234.3 1094.7,1248.6 1080.3,1248.7" fill="#3c3c3c"/>
<polygon points="1095.5,1234.3 1124.2,1234.1 1123.4,1248.4 1094.7,1248.6" fill="#707070"/>
<polygon points="1325.4,1232.7 1339.8,1232.6 1339.0,1246.9 1324.6,1247.0" fill="#000"/>
<polygon points="1483.5,1231.6 1612.9,1230.7 1612.1,1245.0 1482.7,1245.9" fill="#000"/>
<polygon points="1612.9,1230.7 1727.9,1229.9 1727.0,1244.2 1612.1,1245.0" fill="#fff"/>
<polygon points="965.3,1249.5 994.1,1249.3 993.3,1263.6 964.6,1263.8" fill="#3c3c3c"/>
<polygon points="994.1,1249.3 1022.8,1249.1 1022.1,1263.4 993.3,1263.6" fill="#707070"/>
<polygon points="1065.9,1248.8 1080.3,1248.7 1079.5,1263.0 1065.2,1263.1" fill="#707070"/>
<polygon points="1080.3,1248.7 1094.7,1248.6 1093.9,1262.9 1079.5,1263.0" fill="#3c3c3c"/>
<polygon points="1094.7,1248.6 1123.4,1248.4 1122.7,1262.7 1093.9,1262.9" fill="#707070"/>
<polygon points="1468.3,1246.0 1612.1,1245.0 1611.2,1259.3 1467.5,1260.3" fill="#000"/>
<polygon points="1612.1,1245.0 1727.0,1244.2 1726.2,1258.5 1611.2,1259.3" fill="#fff"/>
<polygon points="964.6,1263.8 993.3,1263.6 992.6,1277.9 963.8,1278.1" fill="#3c3c3c"/>
<polygon points="993.3,1263.6 1022.1,1263.4 1021.3,1277.7 992.6,1277.9" fill="#707070"/>
<polygon points="1079.5,1263.0 1137.0,1262.6 1136.3,1276.9 1078.8,1277.3" fill="#707070"/>
<polygon points="1266.4,1261.7 1280.7,1261.6 1279.9,1275.9 1265.6,1276.0" fill="#707070"/>
<polygon points="1481.9,1260.2 1496.3,1260.1 1495.5,1274.4 1481.1,1274.5" fill="#000"/>
<polygon points="1539.4,1259.8 1611.2,1259.3 1610.4,1273.6 1538.6,1274.1" fill="#000"/>
<polygon points="1611.2,1259.3 1726.2,1258.5 1725.4,1272.8 1610.4,1273.6" fill="#fff"/>
<polygon points="963.8,1278.1 1006.9,1277.8 1006.2,1292.1 963.1,1292.4" fill="#3c3c3c"/>
<polygon points="1006.9,1277.8 1035.7,1277.6 1034.9,1291.9 1006.2,1292.1" fill="#707070"/>
<polygon points="1107.5,1277.1 1136.3,1276.9 1135.5,1291.2 1106.7,1291.4" fill="#707070"/>
<polygon points="1394.9,1275.1 1423.6,1274.9 1422.8,1289.2 1394.1,1289.4" fill="#000"/>
<polygon points="1438.0,1274.8 1466.7,1274.6 1465.9,1288.9 1437.2,1289.1" fill="#000"/>
<polygon points="1481.1,1274.5 1509.8,1274.3 1509.0,1288.6 1480.3,1288.8" fill="#000"/>
<polygon points="1538.6,1274.1 1610.4,1273.6 1609.6,1287.9 1537.8,1288.4" fill="#000"/>
<polygon points="1610.4,1273.6 1725.4,1272.8 1724.6,1287.1 1609.6,1287.9" fill="#fff"/>
<polygon points="963.1,1292.4 1006.2,1292.1 1005.4,1306.4 962.3,1306.7" fill="#3c3c3c"/>
<polygon points="1006.2,1292.1 1034.9,1291.9 1034.2,1306.2 1005.4,1306.4" fill="#707070"/>
<polygon points="1078.0,1291.6 1092.4,1291.5 1091.6,1305.8 1077.2,1305.9" fill="#000"/>
<polygon points="1379.7,1289.5 1408.5,1289.3 1407.7,1303.6 1378.9,1303.8" fill="#000"/>
<polygon points="1465.9,1288.9 1494.7,1288.7 1493.9,1303.0 1465.1,1303.2" fill="#000"/>
<polygon points="1566.5,1288.2 1624.0,1287.8 1623.2,1302.0 1565.7,1302.5" fill="#000"/>
<polygon points="1624.0,1287.8 1724.6,1287.1 1723.7,1301.3 1623.2,1302.0" fill="#fff"/>
<polygon points="962.3,1306.7 1048.5,1306.1 1047.8,1320.4 961.6,1321.0" fill="#707070"/>
<polygon points="1106.0,1305.7 1134.7,1305.5 1133.9,1319.8 1105.2,1320.0" fill="#000"/>
<polygon points="1465.1,1303.2 1493.9,1303.0 1493.1,1317.2 1464.3,1317.4" fill="#000"/>
<polygon points="1565.7,1302.5 1637.5,1301.9 1636.7,1316.2 1564.9,1316.7" fill="#000"/>
<polygon points="1637.5,1301.9 1723.7,1301.3 1722.9,1315.6 1636.7,1316.2" fill="#fff"/>
<polygon points="961.6,1321.0 1019.0,1320.6 1018.3,1334.9 960.8,1335.3" fill="#707070"/>
<polygon points="1019.0,1320.6 1033.4,1320.5 1032.6,1334.8 1018.3,1334.9" fill="#3c3c3c"/>
<polygon points="1033.4,1320.5 1076.5,1320.2 1075.7,1334.4 1032.6,1334.8" fill="#707070"/>
<polygon points="1464.3,1317.4 1493.1,1317.2 1492.3,1331.5 1463.5,1331.7" fill="#000"/>
<polygon points="1564.9,1316.7 1651.1,1316.1 1650.3,1330.4 1564.1,1331.0" fill="#000"/>
<polygon points="1651.1,1316.1 1722.9,1315.6 1722.1,1329.9 1650.3,1330.4" fill="#fff"/>
<polygon points="960.8,1335.3 1104.4,1334.2 1103.7,1348.5 960.1,1349.5" fill="#707070"/>
<polygon points="1348.6,1332.5 1363.0,1332.4 1362.2,1346.7 1347.8,1346.8" fill="#000"/>
<polygon points="1564.1,1331.0 1650.3,1330.4 1649.4,1344.7 1563.3,1345.3" fill="#000"/>
<polygon points="1650.3,1330.4 1722.1,1329.9 1721.3,1344.2 1649.4,1344.7" fill="#fff"/>
<polygon points="960.1,1349.5 1003.1,1349.2 1002.4,1363.5 959.3,1363.8" fill="#707070"/>
<polygon points="1060.6,1348.8 1074.9,1348.7 1074.2,1363.0 1059.8,1363.1" fill="#707070"/>
<polygon points="1089.3,1348.6 1118.0,1348.4 1117.3,1362.7 1088.5,1362.9" fill="#707070"/>
<polygon points="1347.8,1346.8 1376.6,1346.6 1375.8,1360.9 1347.0,1361.1" fill="#000"/>
<polygon points="1563.3,1345.3 1649.4,1344.7 1648.6,1359.0 1562.5,1359.6" fill="#000"/>
<polygon points="1649.4,1344.7 1721.3,1344.2 1720.4,1358.5 1648.6,1359.0" fill="#fff"/>
<polygon points="959.3,1363.8 988.0,1363.6 987.3,1377.9 958.5,1378.1" fill="#707070"/>
<polygon points="1102.9,1362.8 1131.6,1362.6 1130.9,1376.9 1102.1,1377.1" fill="#707070"/>
<polygon points="1347.0,1361.1 1361.4,1361.0 1360.6,1375.3 1346.2,1375.4" fill="#000"/>
<polygon points="1490.6,1360.1 1519.4,1359.9 1518.6,1374.2 1489.8,1374.4" fill="#000"/>
<polygon points="1591.2,1359.4 1663.0,1358.9 1662.2,1373.2 1590.4,1373.7" fill="#000"/>
<polygon points="1663.0,1358.9 1720.4,1358.5 1719.6,1372.8 1662.2,1373.2" fill="#fff"/>
<polygon points="958.5,1378.1 1087.8,1377.2 1087.0,1391.5 957.8,1392.4" fill="#707070"/>
<polygon points="1489.8,1374.4 1518.6,1374.2 1517.8,1388.5 1489.0,1388.7" fill="#000"/>
<polygon points="1590.4,1373.7 1662.2,1373.2 1661.3,1387.5 1589.6,1388.0" fill="#000"/>
<polygon points="1662.2,1373.2 1719.6,1372.8 1718.8,1387.1 1661.3,1387.5" fill="#fff"/>
<polygon points="972.1,1392.3 986.5,1392.2 985.7,1406.5 971.4,1406.6" fill="#707070"/>
<polygon points="986.5,1392.2 1000.9,1392.1 1000.1,1406.4 985.7,1406.5" fill="#3c3c3c"/>
<polygon points="1000.9,1392.1 1015.2,1392.0 1014.5,1406.3 1000.1,1406.4" fill="#707070"/>
<polygon points="1015.2,1392.0 1029.6,1391.9 1028.8,1406.2 1014.5,1406.3" fill="#3c3c3c"/>
<polygon points="1029.6,1391.9 1087.0,1391.5 1086.2,1405.8 1028.8,1406.2" fill="#707070"/>
<polygon points="1431.6,1389.1 1446.0,1389.0 1445.2,1403.3 1430.8,1403.4" fill="#000"/>
<polygon points="1460.3,1388.9 1474.7,1388.8 1473.9,1403.1 1459.5,1403.2" fill="#000"/>
<polygon points="1503.4,1388.6 1517.8,1388.5 1517.0,1402.8 1502.6,1402.9" fill="#000"/>
<polygon points="1589.6,1388.0 1661.3,1387.5 1660.5,1401.8 1588.7,1402.3" fill="#000"/>
<polygon points="1661.3,1387.5 1718.8,1387.1 1718.0,1401.4 1660.5,1401.8" fill="#fff"/>
<polygon points="971.4,1406.6 1000.1,1406.4 999.3,1420.7 970.6,1420.9" fill="#3c3c3c"/>
<polygon points="1000.1,1406.4 1014.5,1406.3 1013.7,1420.6 999.3,1420.7" fill="#707070"/>
<polygon points="1014.5,1406.3 1043.2,1406.1 1042.4,1420.4 1013.7,1420.6" fill="#3c3c3c"/>
<polygon points="1043.2,1406.1 1115.0,1405.6 1114.2,1419.9 1042.4,1420.4" fill="#707070"/>
<polygon points="1172.4,1405.2 1186.7,1405.1 1186.0,1419.4 1171.6,1419.5" fill="#707070"/>
<polygon points="1459.5,1403.2 1488.2,1403.0 1487.4,1417.3 1458.7,1417.5" fill="#000"/>
<polygon points="1603.1,1402.2 1674.9,1401.7 1674.1,1416.0 1602.3,1416.5" fill="#000"/>
<polygon points="1674.9,1401.7 1732.3,1401.3 1731.5,1415.6 1674.1,1416.0" fill="#fff"/>
<polygon points="970.6,1420.9 1214.7,1419.2 1213.9,1433.5 969.9,1435.2" fill="#707070"/>
<polygon points="1458.7,1417.5 1473.1,1417.4 1472.3,1431.7 1457.9,1431.8" fill="#000"/>
<polygon points="1602.3,1416.5 1674.1,1416.0 1673.2,1430.3 1601.5,1430.8" fill="#000"/>
<polygon points="1674.1,1416.0 1731.5,1415.6 1730.7,1429.9 1673.2,1430.3" fill="#fff"/>
<polygon points="969.9,1435.2 1012.9,1434.9 1012.2,1449.2 969.1,1449.5" fill="#707070"/>
<polygon points="1027.3,1434.8 1170.8,1433.8 1170.1,1448.1 1026.5,1449.1" fill="#707070"/>
<polygon points="1601.5,1430.8 1687.6,1430.2 1686.8,1444.5 1600.7,1445.1" fill="#000"/>
<polygon points="1687.6,1430.2 1730.7,1429.9 1729.8,1444.2 1686.8,1444.5" fill="#fff"/>
<polygon points="969.1,1449.5 1026.5,1449.1 1025.8,1463.4 968.4,1463.8" fill="#707070"/>
<polygon points="1055.2,1448.9 1069.6,1448.8 1068.8,1463.1 1054.5,1463.2" fill="#707070"/>
<polygon points="1198.8,1447.9 1227.5,1447.7 1226.7,1462.0 1198.0,1462.2" fill="#000"/>
<polygon points="1385.4,1446.6 1399.7,1446.5 1398.9,1460.8 1384.6,1460.9" fill="#000"/>
<polygon points="1615.0,1445.0 1701.1,1444.4 1700.3,1458.6 1614.2,1459.2" fill="#000"/>
<polygon points="1701.1,1444.4 1729.8,1444.2 1729.0,1458.4 1700.3,1458.6" fill="#fff"/>
<polygon points="968.4,1463.8 1040.1,1463.3 1039.4,1477.6 967.6,1478.1" fill="#707070"/>
<polygon points="1097.5,1462.9 1269.7,1461.7 1269.0,1475.9 1096.8,1477.2" fill="#000"/>
<polygon points="1470.7,1460.3 1485.0,1460.1 1484.2,1474.4 1469.9,1474.5" fill="#000"/>
<polygon points="1628.5,1459.1 1714.7,1458.5 1713.8,1472.8 1627.7,1473.4" fill="#000"/>
<polygon points="1714.7,1458.5 1729.0,1458.4 1728.2,1472.7 1713.8,1472.8" fill="#fff"/>
<polygon points="967.6,1478.1 1010.7,1477.8 1009.9,1492.0 966.8,1492.3" fill="#707070"/>
<polygon points="1082.4,1477.3 1211.6,1476.3 1210.8,1490.6 1081.6,1491.5" fill="#000"/>
<polygon points="1269.0,1475.9 1283.3,1475.8 1282.5,1490.1 1268.2,1490.2" fill="#000"/>
<polygon points="1455.5,1474.6 1484.2,1474.4 1483.4,1488.7 1454.7,1488.9" fill="#000"/>
<polygon points="1541.6,1474.0 1556.0,1473.9 1555.2,1488.2 1540.8,1488.3" fill="#707070"/>
<polygon points="1642.1,1473.3 1713.8,1472.8 1713.0,1487.1 1641.3,1487.6" fill="#000"/>
<polygon points="1713.8,1472.8 1728.2,1472.7 1727.4,1487.0 1713.0,1487.1" fill="#fff"/>
<polygon points="966.8,1492.3 1009.9,1492.0 1009.1,1506.3 966.1,1506.6" fill="#707070"/>
<polygon points="1253.8,1490.3 1296.9,1490.0 1296.1,1504.3 1253.0,1504.6" fill="#000"/>
<polygon points="1311.2,1489.9 1339.9,1489.7 1339.1,1504.0 1310.4,1504.2" fill="#000"/>
<polygon points="1397.3,1489.3 1411.7,1489.2 1410.9,1503.5 1396.5,1503.6" fill="#000"/>
<polygon points="1540.8,1488.3 1555.2,1488.2 1554.4,1502.5 1540.0,1502.6" fill="#707070"/>
<polygon points="1655.6,1487.5 1727.4,1487.0 1726.5,1501.3 1654.8,1501.8" fill="#000"/>
<polygon points="966.1,1506.6 1009.1,1506.3 1008.4,1520.6 965.3,1520.9" fill="#707070"/>
<polygon points="1123.9,1505.5 1138.3,1505.4 1137.5,1519.7 1123.1,1519.8" fill="#707070"/>
<polygon points="1195.7,1505.0 1224.3,1504.8 1223.6,1519.1 1194.9,1519.3" fill="#000"/>
<polygon points="1310.4,1504.2 1353.5,1503.9 1352.7,1518.2 1309.6,1518.5" fill="#000"/>
<polygon points="1540.0,1502.6 1568.7,1502.4 1567.9,1516.7 1539.2,1516.9" fill="#707070"/>
<polygon points="1669.1,1501.7 1726.5,1501.3 1725.7,1515.6 1668.3,1516.0" fill="#000"/>
<polygon points="965.3,1520.9 1008.4,1520.6 1007.6,1534.9 964.6,1535.2" fill="#707070"/>
<polygon points="1051.4,1520.3 1080.1,1520.1 1079.3,1534.4 1050.6,1534.6" fill="#707070"/>
<polygon points="1539.2,1516.9 1553.5,1516.8 1552.7,1531.1 1538.4,1531.2" fill="#707070"/>
<polygon points="1596.6,1516.5 1625.3,1516.3 1624.5,1530.6 1595.8,1530.8" fill="#707070"/>
<polygon points="964.6,1535.2 1050.6,1534.6 1049.9,1548.9 963.8,1549.5" fill="#707070"/>
<polygon points="1567.1,1531.0 1624.5,1530.6 1623.6,1544.9 1566.3,1545.3" fill="#707070"/>
<polygon points="963.8,1549.5 1035.5,1549.0 1034.8,1563.3 963.1,1563.8" fill="#707070"/>
<polygon points="1551.9,1545.4 1595.0,1545.1 1594.1,1559.4 1551.1,1559.7" fill="#707070"/>
<polygon points="1609.3,1545.0 1695.4,1544.4 1694.5,1558.7 1608.5,1559.3" fill="#707070"/>
<polygon points="963.1,1563.8 1006.1,1563.5 1005.3,1577.8 962.3,1578.1" fill="#707070"/>
<polygon points="1192.5,1562.2 1221.2,1562.0 1220.4,1576.3 1191.8,1576.5" fill="#707070"/>
<polygon points="1536.8,1559.8 1579.8,1559.5 1579.0,1573.8 1536.0,1574.1" fill="#707070"/>
<polygon points="1608.5,1559.3 1622.8,1559.2 1622.0,1573.5 1607.7,1573.6" fill="#707070"/>
<polygon points="1622.8,1559.2 1665.9,1558.9 1665.0,1573.2 1622.0,1573.5" fill="#3c3c3c"/>
<polygon points="1665.9,1558.9 1708.9,1558.6 1708.1,1572.9 1665.0,1573.2" fill="#707070"/>
<polygon points="962.3,1578.1 1019.7,1577.7 1018.9,1592.0 961.5,1592.4" fill="#707070"/>
<polygon points="1320.8,1575.6 1335.2,1575.5 1334.4,1589.8 1320.0,1589.9" fill="#707070"/>
<polygon points="1607.7,1573.6 1622.0,1573.5 1621.2,1587.8 1606.9,1587.9" fill="#3c3c3c"/>
<polygon points="1622.0,1573.5 1636.4,1573.4 1635.5,1587.7 1621.2,1587.8" fill="#c9c9c9"/>
<polygon points="1636.4,1573.4 1650.7,1573.3 1649.9,1587.6 1635.5,1587.7" fill="#c1c1c1"/>
<polygon points="1650.7,1573.3 1708.1,1572.9 1707.2,1587.2 1649.9,1587.6" fill="#3c3c3c"/>
<polygon points="1708.1,1572.9 1722.4,1572.8 1721.6,1587.1 1707.2,1587.2" fill="#707070"/>
<polygon points="961.5,1592.4 1004.6,1592.1 1003.8,1606.4 960.8,1606.7" fill="#707070"/>
<polygon points="1061.9,1591.7 1090.6,1591.5 1089.8,1605.8 1061.2,1606.0" fill="#707070"/>
<polygon points="1592.5,1588.0 1606.9,1587.9 1606.0,1602.2 1591.7,1602.3" fill="#707070"/>
<polygon points="1606.9,1587.9 1635.5,1587.7 1634.7,1602.0 1606.0,1602.2" fill="#3c3c3c"/>
<polygon points="1635.5,1587.7 1649.9,1587.6 1649.1,1601.9 1634.7,1602.0" fill="#c9c9c9"/>
<polygon points="1649.9,1587.6 1664.2,1587.5 1663.4,1601.8 1649.1,1601.9" fill="#c1c1c1"/>
<polygon points="1664.2,1587.5 1678.6,1587.4 1677.7,1601.7 1663.4,1601.8" fill="#b9b9b9"/>
<polygon points="1678.6,1587.4 1692.9,1587.3 1692.1,1601.6 1677.7,1601.7" fill="#c1c1c1"/>
<polygon points="1692.9,1587.3 1707.2,1587.2 1706.4,1601.5 1692.1,1601.6" fill="#3c3c3c"/>
<polygon points="1707.2,1587.2 1721.6,1587.1 1720.8,1601.3 1706.4,1601.5" fill="#707070"/>
<polygon points="960.8,1606.7 1046.8,1606.1 1046.1,1620.4 960.0,1621.0" fill="#707070"/>
<polygon points="1075.5,1605.9 1089.8,1605.8 1089.1,1620.1 1074.7,1620.2" fill="#707070"/>
<polygon points="1261.9,1604.6 1290.6,1604.4 1289.8,1618.7 1261.1,1618.9" fill="#707070"/>
<polygon points="1548.7,1602.6 1591.7,1602.3 1590.9,1616.5 1547.9,1616.8" fill="#707070"/>
<polygon points="1591.7,1602.3 1634.7,1602.0 1633.9,1616.2 1590.9,1616.5" fill="#3c3c3c"/>
<polygon points="1634.7,1602.0 1649.1,1601.9 1648.2,1616.1 1633.9,1616.2" fill="#c9c9c9"/>
<polygon points="1649.1,1601.9 1663.4,1601.8 1662.6,1616.0 1648.2,1616.1" fill="#b9b9b9"/>
<polygon points="1663.4,1601.8 1692.1,1601.6 1691.2,1615.8 1662.6,1616.0" fill="#b1b1b1"/>
<polygon points="1692.1,1601.6 1706.4,1601.5 1705.6,1615.7 1691.2,1615.8" fill="#c1c1c1"/>
<polygon points="1706.4,1601.5 1720.8,1601.3 1719.9,1615.6 1705.6,1615.7" fill="#3c3c3c"/>
<polygon points="960.0,1621.0 1031.7,1620.5 1031.0,1634.7 959.3,1635.3" fill="#707070"/>
<polygon points="1132.1,1619.8 1175.1,1619.5 1174.3,1633.7 1131.3,1634.0" fill="#707070"/>
<polygon points="1519.2,1617.0 1562.2,1616.7 1561.4,1631.0 1518.4,1631.3" fill="#707070"/>
<polygon points="1562.2,1616.7 1633.9,1616.2 1633.1,1630.5 1561.4,1631.0" fill="#3c3c3c"/>
<polygon points="1633.9,1616.2 1648.2,1616.1 1647.4,1630.4 1633.1,1630.5" fill="#c9c9c9"/>
<polygon points="1648.2,1616.1 1662.6,1616.0 1661.8,1630.3 1647.4,1630.4" fill="#b9b9b9"/>
<polygon points="1662.6,1616.0 1691.2,1615.8 1690.4,1630.1 1661.8,1630.3" fill="#a9a9a9"/>
<polygon points="1691.2,1615.8 1705.6,1615.7 1704.8,1630.0 1690.4,1630.1" fill="#b9b9b9"/>
<polygon points="1705.6,1615.7 1719.9,1615.6 1719.1,1629.9 1704.8,1630.0" fill="#c9c9c9"/>
<polygon points="959.3,1635.3 1002.3,1634.9 1001.5,1649.2 958.5,1649.5" fill="#707070"/>
<polygon points="1045.3,1634.6 1059.6,1634.5 1058.9,1648.8 1044.5,1648.9" fill="#707070"/>
<polygon points="1117.0,1634.1 1160.0,1633.8 1159.2,1648.1 1116.2,1648.4" fill="#707070"/>
<polygon points="1203.0,1633.5 1217.3,1633.4 1216.5,1647.7 1202.2,1647.8" fill="#707070"/>
<polygon points="1504.0,1631.4 1561.4,1631.0 1560.6,1645.3 1503.2,1645.7" fill="#707070"/>
<polygon points="1561.4,1631.0 1618.7,1630.6 1617.9,1644.9 1560.6,1645.3" fill="#3c3c3c"/>
<polygon points="1618.7,1630.6 1633.1,1630.5 1632.3,1644.8 1617.9,1644.9" fill="#c9c9c9"/>
<polygon points="1633.1,1630.5 1647.4,1630.4 1646.6,1644.7 1632.3,1644.8" fill="#c1c1c1"/>
<polygon points="1647.4,1630.4 1661.8,1630.3 1660.9,1644.6 1646.6,1644.7" fill="#b1b1b1"/>
<polygon points="1661.8,1630.3 1690.4,1630.1 1689.6,1644.4 1660.9,1644.6" fill="#a9a9a9"/>
<polygon points="1690.4,1630.1 1704.8,1630.0 1703.9,1644.3 1689.6,1644.4" fill="#b1b1b1"/>
<polygon points="1704.8,1630.0 1719.1,1629.9 1718.3,1644.2 1703.9,1644.3" fill="#c1c1c1"/>
<polygon points="958.5,1649.5 1015.9,1649.1 1015.1,1663.4 957.8,1663.8" fill="#707070"/>
<polygon points="1187.9,1647.9 1202.2,1647.8 1201.4,1662.1 1187.1,1662.2" fill="#707070"/>
<polygon points="1488.9,1645.8 1546.2,1645.4 1545.4,1659.7 1488.1,1660.1" fill="#707070"/>
<polygon points="1546.2,1645.4 1589.3,1645.1 1588.4,1659.4 1545.4,1659.7" fill="#3c3c3c"/>
<polygon points="1589.3,1645.1 1617.9,1644.9 1617.1,1659.2 1588.4,1659.4" fill="#c9c9c9"/>
<polygon points="1617.9,1644.9 1632.3,1644.8 1631.4,1659.1 1617.1,1659.2" fill="#c1c1c1"/>
<polygon points="1632.3,1644.8 1646.6,1644.7 1645.8,1659.0 1631.4,1659.1" fill="#b9b9b9"/>
<polygon points="1646.6,1644.7 1660.9,1644.6 1660.1,1658.9 1645.8,1659.0" fill="#b1b1b1"/>
<polygon points="1660.9,1644.6 1689.6,1644.4 1688.8,1658.7 1660.1,1658.9" fill="#a9a9a9"/>
<polygon points="1689.6,1644.4 1703.9,1644.3 1703.1,1658.6 1688.8,1658.7" fill="#b1b1b1"/>
<polygon points="1703.9,1644.3 1718.3,1644.2 1717.4,1658.5 1703.1,1658.6" fill="#c1c1c1"/>
<polygon points="983.5,905.5 997.9,905.4 997.9,907.4 983.5,907.5" fill="#3c3c3c"/>
<polygon points="997.9,905.4 1026.7,905.2 1026.7,907.2 997.9,907.4" fill="#707070"/>
<polygon points="1026.7,905.2 1055.5,905.0 1055.5,907.0 1026.7,907.2" fill="#3c3c3c"/>
<polygon points="1055.5,905.0 1098.7,904.7 1098.7,906.7 1055.5,907.0" fill="#707070"/>
<polygon points="997.1,919.7 1025.9,919.5 1025.9,921.5 997.1,921.7" fill="#707070"/>
<polygon points="1025.9,919.5 1040.3,919.4 1040.3,921.4 1025.9,921.5" fill="#3c3c3c"/>
<polygon points="1054.7,919.3 1097.9,919.0 1097.9,921.0 1054.7,921.3" fill="#707070"/>
<polygon points="967.6,934.2 982.0,934.1 982.0,936.1 967.6,936.2" fill="#3c3c3c"/>
<polygon points="982.0,934.1 1025.2,933.8 1025.2,935.8 982.0,936.1" fill="#707070"/>
<polygon points="1025.2,933.8 1039.6,933.7 1039.6,935.7 1025.2,935.8" fill="#3c3c3c"/>
<polygon points="1039.6,933.7 1097.2,933.3 1097.2,935.3 1039.6,935.7" fill="#707070"/>
<polygon points="1342.0,931.6 1356.4,931.5 1356.4,933.5 1342.0,933.6" fill="#707070"/>
<polygon points="966.8,948.5 981.2,948.4 981.2,950.4 966.8,950.5" fill="#3c3c3c"/>
<polygon points="981.2,948.4 1024.4,948.1 1024.4,950.1 981.2,950.4" fill="#707070"/>
<polygon points="1024.4,948.1 1038.8,948.0 1038.8,950.0 1024.4,950.1" fill="#3c3c3c"/>
<polygon points="1038.8,948.0 1096.4,947.6 1096.4,949.6 1038.8,950.0" fill="#707070"/>
<polygon points="1341.2,945.9 1355.6,945.8 1355.6,947.8 1341.2,947.9" fill="#707070"/>
<polygon points="1686.8,943.5 1701.2,943.4 1701.2,945.4 1686.8,945.5" fill="#000"/>
<polygon points="966.1,962.8 980.5,962.7 980.5,964.7 966.1,964.8" fill="#3c3c3c"/>
<polygon points="1023.7,962.4 1038.0,962.3 1038.0,964.3 1023.7,964.4" fill="#3c3c3c"/>
<polygon points="1038.0,962.3 1081.2,962.0 1081.2,964.0 1038.0,964.3" fill="#707070"/>
<polygon points="1196.4,961.2 1210.8,961.1 1210.8,963.1 1196.4,963.2" fill="#000"/>
<polygon points="1671.5,957.9 1714.7,957.6 1714.7,959.6 1671.5,959.9" fill="#000"/>
<polygon points="965.3,977.1 1022.9,976.7 1022.9,978.7 965.3,979.1" fill="#3c3c3c"/>
<polygon points="1037.3,976.6 1080.5,976.3 1080.5,978.3 1037.3,978.6" fill="#707070"/>
<polygon points="1181.2,975.6 1224.4,975.3 1224.4,977.3 1181.2,977.6" fill="#000"/>
<polygon points="1411.6,974.0 1426.0,973.9 1426.0,975.9 1411.6,976.0" fill="#000"/>
<polygon points="1670.7,972.2 1685.1,972.1 1685.1,974.1 1670.7,974.2" fill="#000"/>
<polygon points="1713.9,971.9 1728.3,971.8 1728.3,973.8 1713.9,973.9" fill="#000"/>
<polygon points="964.6,991.4 993.3,991.2 993.3,993.2 964.6,993.4" fill="#3c3c3c"/>
<polygon points="1022.1,991.0 1036.5,990.9 1036.5,992.9 1022.1,993.0" fill="#707070"/>
<polygon points="1050.9,990.8 1079.7,990.6 1079.7,992.6 1050.9,992.8" fill="#707070"/>
<polygon points="1180.5,989.9 1238.1,989.5 1238.1,991.5 1180.5,991.9" fill="#000"/>
<polygon points="1425.2,988.2 1454.0,988.0 1454.0,990.0 1425.2,990.2" fill="#000"/>
<polygon points="1684.3,986.3 1713.1,986.1 1713.1,988.1 1684.3,988.3" fill="#fff"/>
<polygon points="963.8,1005.7 992.6,1005.5 992.6,1007.5 963.8,1007.7" fill="#3c3c3c"/>
<polygon points="1021.4,1005.3 1035.8,1005.2 1035.8,1007.2 1021.4,1007.3" fill="#707070"/>
<polygon points="1050.2,1005.1 1078.9,1004.9 1078.9,1006.9 1050.2,1007.1" fill="#707070"/>
<polygon points="1179.7,1004.2 1251.7,1003.7 1251.7,1005.7 1179.7,1006.2" fill="#000"/>
<polygon points="1453.2,1002.3 1467.6,1002.2 1467.6,1004.2 1453.2,1004.3" fill="#000"/>
<polygon points="1625.9,1001.0 1654.7,1000.8 1654.7,1002.8 1625.9,1003.0" fill="#000"/>
<polygon points="1654.7,1000.8 1726.7,1000.3 1726.7,1002.3 1654.7,1002.8" fill="#fff"/>
<polygon points="963.0,1020.0 1020.6,1019.6 1020.6,1021.6 963.0,1022.0" fill="#3c3c3c"/>
<polygon points="1020.6,1019.6 1078.2,1019.2 1078.2,1021.2 1020.6,1021.6" fill="#707070"/>
<polygon points="1178.9,1018.5 1250.9,1018.0 1250.9,1020.0 1178.9,1020.5" fill="#000"/>
<polygon points="1380.4,1017.0 1423.6,1016.7 1423.6,1018.7 1380.4,1019.0" fill="#000"/>
<polygon points="1452.4,1016.5 1481.2,1016.3 1481.2,1018.3 1452.4,1018.5" fill="#000"/>
<polygon points="1596.3,1015.5 1653.9,1015.1 1653.9,1017.1 1596.3,1017.5" fill="#000"/>
<polygon points="1653.9,1015.1 1725.8,1014.6 1725.8,1016.6 1653.9,1017.1" fill="#fff"/>
<polygon points="962.3,1034.3 976.7,1034.2 976.7,1036.2 962.3,1036.3" fill="#3c3c3c"/>
<polygon points="991.1,1034.1 1005.5,1034.0 1005.5,1036.0 991.1,1036.1" fill="#3c3c3c"/>
<polygon points="1019.9,1033.9 1077.4,1033.5 1077.4,1035.5 1019.9,1035.9" fill="#707070"/>
<polygon points="1163.8,1032.8 1250.1,1032.2 1250.1,1034.2 1163.8,1034.8" fill="#000"/>
<polygon points="1365.2,1031.4 1437.2,1030.9 1437.2,1032.9 1365.2,1033.4" fill="#000"/>
<polygon points="1451.6,1030.8 1494.7,1030.5 1494.7,1032.5 1451.6,1032.8" fill="#000"/>
<polygon points="1624.3,1029.6 1653.1,1029.4 1653.1,1031.4 1624.3,1031.6" fill="#000"/>
<polygon points="1653.1,1029.4 1725.0,1028.9 1725.0,1030.9 1653.1,1031.4" fill="#fff"/>
<polygon points="975.9,1048.4 990.3,1048.3 990.3,1050.3 975.9,1050.4" fill="#707070"/>
<polygon points="990.3,1048.3 1004.7,1048.2 1004.7,1050.2 990.3,1050.3" fill="#3c3c3c"/>
<polygon points="1004.7,1048.2 1076.7,1047.7 1076.7,1049.7 1004.7,1050.2" fill="#707070"/>
<polygon points="1163.0,1047.1 1249.3,1046.5 1249.3,1048.5 1163.0,1049.1" fill="#000"/>
<polygon points="1364.4,1045.7 1436.4,1045.2 1436.4,1047.2 1364.4,1047.7" fill="#000"/>
<polygon points="1450.8,1045.1 1493.9,1044.8 1493.9,1046.8 1450.8,1047.1" fill="#000"/>
<polygon points="1580.3,1044.2 1594.7,1044.1 1594.7,1046.1 1580.3,1046.2" fill="#000"/>
<polygon points="1623.5,1043.9 1652.2,1043.7 1652.2,1045.7 1623.5,1045.9" fill="#000"/>
<polygon points="1681.0,1043.5 1724.2,1043.2 1724.2,1045.2 1681.0,1045.5" fill="#fff"/>
<polygon points="960.8,1062.8 989.6,1062.6 989.6,1064.6 960.8,1064.8" fill="#707070"/>
<polygon points="989.6,1062.6 1003.9,1062.5 1003.9,1064.5 989.6,1064.6" fill="#3c3c3c"/>
<polygon points="1018.3,1062.4 1090.3,1061.9 1090.3,1063.9 1018.3,1064.4" fill="#707070"/>
<polygon points="1162.2,1061.4 1219.8,1061.0 1219.8,1063.0 1162.2,1063.4" fill="#000"/>
<polygon points="1378.0,1059.9 1435.6,1059.5 1435.6,1061.5 1378.0,1061.9" fill="#000"/>
<polygon points="1450.0,1059.4 1478.8,1059.2 1478.8,1061.2 1450.0,1061.4" fill="#000"/>
<polygon points="1608.3,1058.3 1637.0,1058.1 1637.0,1060.1 1608.3,1060.3" fill="#000"/>
<polygon points="1651.4,1058.0 1665.8,1057.9 1665.8,1059.9 1651.4,1060.0" fill="#000"/>
<polygon points="1680.2,1057.8 1723.4,1057.5 1723.4,1059.5 1680.2,1059.8" fill="#fff"/>
<polygon points="988.8,1076.9 1017.6,1076.7 1017.6,1078.7 988.8,1078.9" fill="#3c3c3c"/>
<polygon points="1032.0,1076.6 1089.5,1076.2 1089.5,1078.2 1032.0,1078.6" fill="#707070"/>
<polygon points="1175.8,1075.6 1204.6,1075.4 1204.6,1077.4 1175.8,1077.6" fill="#000"/>
<polygon points="1305.3,1074.7 1319.7,1074.6 1319.7,1076.6 1305.3,1076.7" fill="#707070"/>
<polygon points="1377.2,1074.2 1434.8,1073.8 1434.8,1075.8 1377.2,1076.2" fill="#000"/>
<polygon points="1593.1,1072.7 1621.8,1072.5 1621.8,1074.5 1593.1,1074.7" fill="#000"/>
<polygon points="1636.2,1072.4 1650.6,1072.3 1650.6,1074.3 1636.2,1074.4" fill="#fff"/>
<polygon points="1665.0,1072.2 1722.5,1071.8 1722.5,1073.8 1665.0,1074.2" fill="#fff"/>
<polygon points="959.3,1091.4 988.0,1091.2 988.0,1093.2 959.3,1093.4" fill="#3c3c3c"/>
<polygon points="1002.4,1091.1 1031.2,1090.9 1031.2,1092.9 1002.4,1093.1" fill="#3c3c3c"/>
<polygon points="1045.6,1090.8 1088.7,1090.5 1088.7,1092.5 1045.6,1092.8" fill="#707070"/>
<polygon points="1362.1,1088.6 1434.0,1088.1 1434.0,1090.1 1362.1,1090.6" fill="#000"/>
<polygon points="1592.2,1087.0 1621.0,1086.8 1621.0,1088.8 1592.2,1089.0" fill="#000"/>
<polygon points="1621.0,1086.8 1664.2,1086.5 1664.2,1088.5 1621.0,1088.8" fill="#fff"/>
<polygon points="1678.6,1086.4 1721.7,1086.1 1721.7,1088.1 1678.6,1088.4" fill="#fff"/>
<polygon points="987.3,1105.5 1001.7,1105.4 1001.7,1107.4 987.3,1107.5" fill="#707070"/>
<polygon points="1016.1,1105.3 1030.4,1105.2 1030.4,1107.2 1016.1,1107.3" fill="#3c3c3c"/>
<polygon points="1044.8,1105.1 1088.0,1104.8 1088.0,1106.8 1044.8,1107.1" fill="#707070"/>
<polygon points="1361.3,1102.9 1404.4,1102.6 1404.4,1104.6 1361.3,1104.9" fill="#000"/>
<polygon points="1418.8,1102.5 1433.2,1102.4 1433.2,1104.4 1418.8,1104.5" fill="#000"/>
<polygon points="1577.0,1101.4 1620.2,1101.1 1620.2,1103.1 1577.0,1103.4" fill="#000"/>
<polygon points="1620.2,1101.1 1663.4,1100.8 1663.4,1102.8 1620.2,1103.1" fill="#fff"/>
<polygon points="1677.7,1100.7 1720.9,1100.4 1720.9,1102.4 1677.7,1102.7" fill="#fff"/>
<polygon points="972.1,1119.9 1015.3,1119.6 1015.3,1121.6 972.1,1121.9" fill="#707070"/>
<polygon points="1015.3,1119.6 1029.7,1119.5 1029.7,1121.5 1015.3,1121.6" fill="#3c3c3c"/>
<polygon points="1044.1,1119.4 1072.8,1119.2 1072.8,1121.2 1044.1,1121.4" fill="#707070"/>
<polygon points="1360.5,1117.2 1403.6,1116.9 1403.6,1118.9 1360.5,1119.2" fill="#000"/>
<polygon points="1576.2,1115.7 1619.4,1115.4 1619.4,1117.4 1576.2,1117.7" fill="#000"/>
<polygon points="1619.4,1115.4 1720.1,1114.7 1720.1,1116.7 1619.4,1117.4" fill="#fff"/>
<polygon points="971.4,1134.2 1014.5,1133.9 1014.5,1135.9 971.4,1136.2" fill="#707070"/>
<polygon points="1028.9,1133.8 1043.3,1133.7 1043.3,1135.7 1028.9,1135.8" fill="#3c3c3c"/>
<polygon points="1043.3,1133.7 1072.1,1133.5 1072.1,1135.5 1043.3,1135.7" fill="#707070"/>
<polygon points="1374.1,1131.4 1402.8,1131.2 1402.8,1133.2 1374.1,1133.4" fill="#000"/>
<polygon points="1489.1,1130.6 1517.9,1130.4 1517.9,1132.4 1489.1,1132.6" fill="#707070"/>
<polygon points="1575.4,1130.0 1618.6,1129.7 1618.6,1131.7 1575.4,1132.0" fill="#000"/>
<polygon points="1633.0,1129.6 1719.2,1129.0 1719.2,1131.0 1633.0,1131.6" fill="#fff"/>
<polygon points="970.6,1148.5 999.4,1148.3 999.4,1150.3 970.6,1150.5" fill="#707070"/>
<polygon points="1013.8,1148.2 1028.2,1148.1 1028.2,1150.1 1013.8,1150.2" fill="#707070"/>
<polygon points="1028.2,1148.1 1042.5,1148.0 1042.5,1150.0 1028.2,1150.1" fill="#3c3c3c"/>
<polygon points="1042.5,1148.0 1071.3,1147.8 1071.3,1149.8 1042.5,1150.0" fill="#707070"/>
<polygon points="1387.7,1145.6 1416.4,1145.4 1416.4,1147.4 1387.7,1147.6" fill="#000"/>
<polygon points="1545.9,1144.5 1560.2,1144.4 1560.2,1146.4 1545.9,1146.5" fill="#000"/>
<polygon points="1574.6,1144.3 1632.1,1143.9 1632.1,1145.9 1574.6,1146.3" fill="#000"/>
<polygon points="1646.5,1143.7 1660.9,1143.6 1660.9,1145.6 1646.5,1145.7" fill="#fff"/>
<polygon points="1689.7,1143.4 1718.4,1143.2 1718.4,1145.2 1689.7,1145.4" fill="#fff"/>
<polygon points="969.9,1162.8 998.6,1162.6 998.6,1164.6 969.9,1164.8" fill="#707070"/>
<polygon points="1013.0,1162.5 1027.4,1162.4 1027.4,1164.4 1013.0,1164.5" fill="#707070"/>
<polygon points="1041.8,1162.3 1070.5,1162.1 1070.5,1164.1 1041.8,1164.3" fill="#707070"/>
<polygon points="1386.9,1159.9 1415.6,1159.7 1415.6,1161.7 1386.9,1161.9" fill="#000"/>
<polygon points="1501.9,1159.0 1516.3,1158.9 1516.3,1160.9 1501.9,1161.0" fill="#000"/>
<polygon points="1545.0,1158.7 1645.7,1158.0 1645.7,1160.0 1545.0,1160.7" fill="#000"/>
<polygon points="1645.7,1158.0 1660.1,1157.9 1660.1,1159.9 1645.7,1160.0" fill="#fff"/>
<polygon points="1674.5,1157.8 1688.8,1157.7 1688.8,1159.7 1674.5,1159.8" fill="#000"/>
<polygon points="1688.8,1157.7 1717.6,1157.5 1717.6,1159.5 1688.8,1159.7" fill="#fff"/>
<polygon points="969.1,1177.1 1012.3,1176.8 1012.3,1178.8 969.1,1179.1" fill="#707070"/>
<polygon points="1041.0,1176.6 1069.8,1176.4 1069.8,1178.4 1041.0,1178.6" fill="#707070"/>
<polygon points="1486.7,1173.4 1501.1,1173.3 1501.1,1175.3 1486.7,1175.4" fill="#000"/>
<polygon points="1515.5,1173.2 1544.2,1173.0 1544.2,1175.0 1515.5,1175.2" fill="#fff"/>
<polygon points="1558.6,1172.9 1644.9,1172.3 1644.9,1174.3 1558.6,1174.9" fill="#000"/>
<polygon points="1644.9,1172.3 1673.6,1172.1 1673.6,1174.1 1644.9,1174.3" fill="#fff"/>
<polygon points="1688.0,1172.0 1731.2,1171.7 1731.2,1173.7 1688.0,1174.0" fill="#fff"/>
<polygon points="968.4,1191.4 1011.5,1191.0 1011.5,1193.0 968.4,1193.4" fill="#707070"/>
<polygon points="1040.2,1190.8 1069.0,1190.6 1069.0,1192.6 1040.2,1192.8" fill="#707070"/>
<polygon points="1327.8,1188.8 1342.2,1188.7 1342.2,1190.7 1327.8,1190.8" fill="#000"/>
<polygon points="1471.5,1187.8 1500.3,1187.6 1500.3,1189.6 1471.5,1189.8" fill="#000"/>
<polygon points="1500.3,1187.6 1557.8,1187.2 1557.8,1189.2 1500.3,1189.6" fill="#fff"/>
<polygon points="1557.8,1187.2 1629.7,1186.7 1629.7,1188.7 1557.8,1189.2" fill="#000"/>
<polygon points="1644.1,1186.6 1730.3,1186.0 1730.3,1188.0 1644.1,1188.6" fill="#fff"/>
<polygon points="967.6,1205.6 982.0,1205.5 982.0,1207.5 967.6,1207.6" fill="#707070"/>
<polygon points="1053.9,1205.0 1082.6,1204.8 1082.6,1206.8 1053.9,1207.0" fill="#707070"/>
<polygon points="1485.1,1202.0 1499.5,1201.9 1499.5,1203.9 1485.1,1204.0" fill="#000"/>
<polygon points="1499.5,1201.9 1557.0,1201.5 1557.0,1203.5 1499.5,1203.9" fill="#fff"/>
<polygon points="1557.0,1201.5 1614.5,1201.1 1614.5,1203.1 1557.0,1203.5" fill="#000"/>
<polygon points="1628.9,1201.0 1729.5,1200.3 1729.5,1202.3 1628.9,1203.0" fill="#fff"/>
<polygon points="966.9,1219.9 981.2,1219.8 981.2,1221.8 966.9,1221.9" fill="#707070"/>
<polygon points="1053.1,1219.3 1096.2,1219.0 1096.2,1221.0 1053.1,1221.3" fill="#707070"/>
<polygon points="1311.8,1217.5 1326.2,1217.4 1326.2,1219.4 1311.8,1219.5" fill="#000"/>
<polygon points="1398.1,1216.9 1412.4,1216.8 1412.4,1218.8 1398.1,1218.9" fill="#707070"/>
<polygon points="1441.2,1216.6 1455.6,1216.5 1455.6,1218.5 1441.2,1218.6" fill="#000"/>
<polygon points="1484.3,1216.3 1498.7,1216.2 1498.7,1218.2 1484.3,1218.3" fill="#000"/>
<polygon points="1513.1,1216.1 1541.8,1215.9 1541.8,1217.9 1513.1,1218.1" fill="#fff"/>
<polygon points="1556.2,1215.8 1613.7,1215.4 1613.7,1217.4 1556.2,1217.8" fill="#000"/>
<polygon points="1613.7,1215.4 1728.7,1214.6 1728.7,1216.6 1613.7,1217.4" fill="#fff"/>
<polygon points="980.5,1234.1 994.8,1234.0 994.8,1236.0 980.5,1236.1" fill="#707070"/>
<polygon points="1066.7,1233.5 1081.1,1233.4 1081.1,1235.4 1066.7,1235.5" fill="#707070"/>
<polygon points="1095.5,1233.3 1109.8,1233.2 1109.8,1235.2 1095.5,1235.3" fill="#707070"/>
<polygon points="1325.4,1231.7 1339.8,1231.6 1339.8,1233.6 1325.4,1233.7" fill="#000"/>
<polygon points="1483.5,1230.6 1512.3,1230.4 1512.3,1232.4 1483.5,1232.6" fill="#000"/>
<polygon points="1541.0,1230.2 1612.9,1229.7 1612.9,1231.7 1541.0,1232.2" fill="#000"/>
<polygon points="1612.9,1229.7 1727.9,1228.9 1727.9,1230.9 1612.9,1231.7" fill="#fff"/>
<polygon points="965.3,1248.5 979.7,1248.4 979.7,1250.4 965.3,1250.5" fill="#3c3c3c"/>
<polygon points="994.1,1248.3 1022.8,1248.1 1022.8,1250.1 994.1,1250.3" fill="#707070"/>
<polygon points="1065.9,1247.8 1080.3,1247.7 1080.3,1249.7 1065.9,1249.8" fill="#707070"/>
<polygon points="1080.3,1247.7 1094.7,1247.6 1094.7,1249.6 1080.3,1249.7" fill="#3c3c3c"/>
<polygon points="1094.7,1247.6 1123.4,1247.4 1123.4,1249.4 1094.7,1249.6" fill="#707070"/>
<polygon points="1482.7,1244.9 1612.1,1244.0 1612.1,1246.0 1482.7,1246.9" fill="#000"/>
<polygon points="1612.1,1244.0 1727.0,1243.2 1727.0,1245.2 1612.1,1246.0" fill="#fff"/>
<polygon points="964.6,1262.8 993.3,1262.6 993.3,1264.6 964.6,1264.8" fill="#3c3c3c"/>
<polygon points="993.3,1262.6 1022.1,1262.4 1022.1,1264.4 993.3,1264.6" fill="#707070"/>
<polygon points="1093.9,1261.9 1122.7,1261.7 1122.7,1263.7 1093.9,1263.9" fill="#707070"/>
<polygon points="1481.9,1259.2 1496.3,1259.1 1496.3,1261.1 1481.9,1261.2" fill="#000"/>
<polygon points="1539.4,1258.8 1611.2,1258.3 1611.2,1260.3 1539.4,1260.8" fill="#000"/>
<polygon points="1611.2,1258.3 1726.2,1257.5 1726.2,1259.5 1611.2,1260.3" fill="#fff"/>
<polygon points="963.8,1277.1 992.6,1276.9 992.6,1278.9 963.8,1279.1" fill="#3c3c3c"/>
<polygon points="1006.9,1276.8 1021.3,1276.7 1021.3,1278.7 1006.9,1278.8" fill="#707070"/>
<polygon points="1107.5,1276.1 1136.3,1275.9 1136.3,1277.9 1107.5,1278.1" fill="#707070"/>
<polygon points="1481.1,1273.5 1495.5,1273.4 1495.5,1275.4 1481.1,1275.5" fill="#000"/>
<polygon points="1538.6,1273.1 1610.4,1272.6 1610.4,1274.6 1538.6,1275.1" fill="#000"/>
<polygon points="1610.4,1272.6 1725.4,1271.8 1725.4,1273.8 1610.4,1274.6" fill="#fff"/>
<polygon points="963.1,1291.4 1006.2,1291.1 1006.2,1293.1 963.1,1293.4" fill="#3c3c3c"/>
<polygon points="1006.2,1291.1 1034.9,1290.9 1034.9,1292.9 1006.2,1293.1" fill="#707070"/>
<polygon points="1394.1,1288.4 1408.5,1288.3 1408.5,1290.3 1394.1,1290.4" fill="#000"/>
<polygon points="1480.3,1287.8 1494.7,1287.7 1494.7,1289.7 1480.3,1289.8" fill="#000"/>
<polygon points="1566.5,1287.2 1609.6,1286.9 1609.6,1288.9 1566.5,1289.2" fill="#000"/>
<polygon points="1624.0,1286.8 1724.6,1286.1 1724.6,1288.1 1624.0,1288.8" fill="#fff"/>
<polygon points="1005.4,1305.4 1034.2,1305.2 1034.2,1307.2 1005.4,1307.4" fill="#707070"/>
<polygon points="1465.1,1302.2 1493.9,1302.0 1493.9,1304.0 1465.1,1304.2" fill="#000"/>
<polygon points="1565.7,1301.5 1623.2,1301.0 1623.2,1303.0 1565.7,1303.5" fill="#000"/>
<polygon points="1637.5,1300.9 1723.7,1300.3 1723.7,1302.3 1637.5,1302.9" fill="#fff"/>
<polygon points="961.6,1320.0 1019.0,1319.6 1019.0,1321.6 961.6,1322.0" fill="#707070"/>
<polygon points="1033.4,1319.5 1047.8,1319.4 1047.8,1321.4 1033.4,1321.5" fill="#707070"/>
<polygon points="1464.3,1316.4 1493.1,1316.2 1493.1,1318.2 1464.3,1318.4" fill="#000"/>
<polygon points="1564.9,1315.7 1636.7,1315.2 1636.7,1317.2 1564.9,1317.7" fill="#000"/>
<polygon points="1651.1,1315.1 1722.9,1314.6 1722.9,1316.6 1651.1,1317.1" fill="#fff"/>
<polygon points="960.8,1334.3 1018.3,1333.9 1018.3,1335.9 960.8,1336.3" fill="#707070"/>
<polygon points="1032.6,1333.8 1075.7,1333.4 1075.7,1335.4 1032.6,1335.8" fill="#707070"/>
<polygon points="1564.1,1330.0 1650.3,1329.4 1650.3,1331.4 1564.1,1332.0" fill="#000"/>
<polygon points="1650.3,1329.4 1722.1,1328.9 1722.1,1330.9 1650.3,1331.4" fill="#fff"/>
<polygon points="960.1,1348.5 1003.1,1348.2 1003.1,1350.2 960.1,1350.5" fill="#707070"/>
<polygon points="1060.6,1347.8 1074.9,1347.7 1074.9,1349.7 1060.6,1349.8" fill="#707070"/>
<polygon points="1089.3,1347.6 1103.7,1347.5 1103.7,1349.5 1089.3,1349.6" fill="#707070"/>
<polygon points="1347.8,1345.8 1362.2,1345.7 1362.2,1347.7 1347.8,1347.8" fill="#000"/>
<polygon points="1563.3,1344.3 1649.4,1343.7 1649.4,1345.7 1563.3,1346.3" fill="#000"/>
<polygon points="1649.4,1343.7 1721.3,1343.2 1721.3,1345.2 1649.4,1345.7" fill="#fff"/>
<polygon points="959.3,1362.8 988.0,1362.6 988.0,1364.6 959.3,1364.8" fill="#707070"/>
<polygon points="1102.9,1361.8 1117.3,1361.7 1117.3,1363.7 1102.9,1363.8" fill="#707070"/>
<polygon points="1347.0,1360.1 1361.4,1360.0 1361.4,1362.0 1347.0,1362.1" fill="#000"/>
<polygon points="1591.2,1358.4 1648.6,1358.0 1648.6,1360.0 1591.2,1360.4" fill="#000"/>
<polygon points="1663.0,1357.9 1720.4,1357.5 1720.4,1359.5 1663.0,1359.9" fill="#fff"/>
<polygon points="958.5,1377.1 987.3,1376.9 987.3,1378.9 958.5,1379.1" fill="#707070"/>
<polygon points="1489.8,1373.4 1518.6,1373.2 1518.6,1375.2 1489.8,1375.4" fill="#000"/>
<polygon points="1590.4,1372.7 1662.2,1372.2 1662.2,1374.2 1590.4,1374.7" fill="#000"/>
<polygon points="1662.2,1372.2 1719.6,1371.8 1719.6,1373.8 1662.2,1374.2" fill="#fff"/>
<polygon points="972.1,1391.3 986.5,1391.2 986.5,1393.2 972.1,1393.3" fill="#707070"/>
<polygon points="1000.9,1391.1 1015.2,1391.0 1015.2,1393.0 1000.9,1393.1" fill="#707070"/>
<polygon points="1029.6,1390.9 1087.0,1390.5 1087.0,1392.5 1029.6,1392.9" fill="#707070"/>
<polygon points="1503.4,1387.6 1517.8,1387.5 1517.8,1389.5 1503.4,1389.6" fill="#000"/>
<polygon points="1589.6,1387.0 1661.3,1386.5 1661.3,1388.5 1589.6,1389.0" fill="#000"/>
<polygon points="1661.3,1386.5 1718.8,1386.1 1718.8,1388.1 1661.3,1388.5" fill="#fff"/>
<polygon points="985.7,1405.5 1000.1,1405.4 1000.1,1407.4 985.7,1407.5" fill="#3c3c3c"/>
<polygon points="1000.1,1405.4 1014.5,1405.3 1014.5,1407.3 1000.1,1407.4" fill="#707070"/>
<polygon points="1014.5,1405.3 1028.8,1405.2 1028.8,1407.2 1014.5,1407.3" fill="#3c3c3c"/>
<polygon points="1043.2,1405.1 1086.2,1404.8 1086.2,1406.8 1043.2,1407.1" fill="#707070"/>
<polygon points="1459.5,1402.2 1473.9,1402.1 1473.9,1404.1 1459.5,1404.2" fill="#000"/>
<polygon points="1603.1,1401.2 1660.5,1400.8 1660.5,1402.8 1603.1,1403.2" fill="#000"/>
<polygon points="1674.9,1400.7 1718.0,1400.4 1718.0,1402.4 1674.9,1402.7" fill="#fff"/>
<polygon points="999.3,1419.7 1013.7,1419.6 1013.7,1421.6 999.3,1421.7" fill="#707070"/>
<polygon points="1042.4,1419.4 1114.2,1418.9 1114.2,1420.9 1042.4,1421.4" fill="#707070"/>
<polygon points="1171.6,1418.5 1186.0,1418.4 1186.0,1420.4 1171.6,1420.5" fill="#707070"/>
<polygon points="1458.7,1416.5 1473.1,1416.4 1473.1,1418.4 1458.7,1418.5" fill="#000"/>
<polygon points="1602.3,1415.5 1674.1,1415.0 1674.1,1417.0 1602.3,1417.5" fill="#000"/>
<polygon points="1674.1,1415.0 1731.5,1414.6 1731.5,1416.6 1674.1,1417.0" fill="#fff"/>
<polygon points="969.9,1434.2 1012.9,1433.9 1012.9,1435.9 969.9,1436.2" fill="#707070"/>
<polygon points="1027.3,1433.8 1170.8,1432.8 1170.8,1434.8 1027.3,1435.8" fill="#707070"/>
<polygon points="1601.5,1429.8 1673.2,1429.3 1673.2,1431.3 1601.5,1431.8" fill="#000"/>
<polygon points="1687.6,1429.2 1730.7,1428.9 1730.7,1430.9 1687.6,1431.2" fill="#fff"/>
<polygon points="969.1,1448.5 1012.2,1448.2 1012.2,1450.2 969.1,1450.5" fill="#707070"/>
<polygon points="1055.2,1447.9 1069.6,1447.8 1069.6,1449.8 1055.2,1449.9" fill="#707070"/>
<polygon points="1615.0,1444.0 1686.8,1443.5 1686.8,1445.5 1615.0,1446.0" fill="#000"/>
<polygon points="1701.1,1443.4 1729.8,1443.2 1729.8,1445.2 1701.1,1445.4" fill="#fff"/>
<polygon points="968.4,1462.8 1025.8,1462.4 1025.8,1464.4 968.4,1464.8" fill="#707070"/>
<polygon points="1198.0,1461.2 1226.7,1461.0 1226.7,1463.0 1198.0,1463.2" fill="#000"/>
<polygon points="1628.5,1458.1 1700.3,1457.6 1700.3,1459.6 1628.5,1460.1" fill="#000"/>
<polygon points="1714.7,1457.5 1729.0,1457.4 1729.0,1459.4 1714.7,1459.5" fill="#fff"/>
<polygon points="967.6,1477.1 1010.7,1476.8 1010.7,1478.8 967.6,1479.1" fill="#707070"/>
<polygon points="1096.8,1476.2 1211.6,1475.3 1211.6,1477.3 1096.8,1478.2" fill="#000"/>
<polygon points="1469.9,1473.5 1484.2,1473.4 1484.2,1475.4 1469.9,1475.5" fill="#000"/>
<polygon points="1642.1,1472.3 1713.8,1471.8 1713.8,1473.8 1642.1,1474.3" fill="#000"/>
<polygon points="1713.8,1471.8 1728.2,1471.7 1728.2,1473.7 1713.8,1473.8" fill="#fff"/>
<polygon points="966.8,1491.3 1009.9,1491.0 1009.9,1493.0 966.8,1493.3" fill="#707070"/>
<polygon points="1268.2,1489.2 1282.5,1489.1 1282.5,1491.1 1268.2,1491.2" fill="#000"/>
<polygon points="1540.8,1487.3 1555.2,1487.2 1555.2,1489.2 1540.8,1489.3" fill="#707070"/>
<polygon points="1655.6,1486.5 1713.0,1486.1 1713.0,1488.1 1655.6,1488.5" fill="#000"/>
<polygon points="966.1,1505.6 1009.1,1505.3 1009.1,1507.3 966.1,1507.6" fill="#707070"/>
<polygon points="1310.4,1503.2 1339.1,1503.0 1339.1,1505.0 1310.4,1505.2" fill="#000"/>
<polygon points="1540.0,1501.6 1554.4,1501.5 1554.4,1503.5 1540.0,1503.6" fill="#707070"/>
<polygon points="1669.1,1500.7 1726.5,1500.3 1726.5,1502.3 1669.1,1502.7" fill="#000"/>
<polygon points="965.3,1519.9 1008.4,1519.6 1008.4,1521.6 965.3,1521.9" fill="#707070"/>
<polygon points="1539.2,1515.9 1553.5,1515.8 1553.5,1517.8 1539.2,1517.9" fill="#707070"/>
<polygon points="964.6,1534.2 1007.6,1533.9 1007.6,1535.9 964.6,1536.2" fill="#707070"/>
<polygon points="1595.8,1529.8 1624.5,1529.6 1624.5,1531.6 1595.8,1531.8" fill="#707070"/>
<polygon points="963.8,1548.5 1035.5,1548.0 1035.5,1550.0 963.8,1550.5" fill="#707070"/>
<polygon points="1566.3,1544.3 1595.0,1544.1 1595.0,1546.1 1566.3,1546.3" fill="#707070"/>
<polygon points="1609.3,1544.0 1623.6,1543.9 1623.6,1545.9 1609.3,1546.0" fill="#707070"/>
<polygon points="963.1,1562.8 1006.1,1562.5 1006.1,1564.5 963.1,1564.8" fill="#707070"/>
<polygon points="1551.1,1558.7 1579.8,1558.5 1579.8,1560.5 1551.1,1560.7" fill="#707070"/>
<polygon points="1608.5,1558.3 1622.8,1558.2 1622.8,1560.2 1608.5,1560.3" fill="#707070"/>
<polygon points="1665.9,1557.9 1694.5,1557.7 1694.5,1559.7 1665.9,1559.9" fill="#707070"/>
<polygon points="962.3,1577.1 1005.3,1576.8 1005.3,1578.8 962.3,1579.1" fill="#707070"/>
<polygon points="1650.7,1572.3 1665.0,1572.2 1665.0,1574.2 1650.7,1574.3" fill="#3c3c3c"/>
<polygon points="961.5,1591.4 1004.6,1591.1 1004.6,1593.1 961.5,1593.4" fill="#707070"/>
<polygon points="1606.9,1586.9 1621.2,1586.8 1621.2,1588.8 1606.9,1588.9" fill="#3c3c3c"/>
<polygon points="1692.9,1586.3 1707.2,1586.2 1707.2,1588.2 1692.9,1588.3" fill="#3c3c3c"/>
<polygon points="1707.2,1586.2 1721.6,1586.1 1721.6,1588.1 1707.2,1588.2" fill="#707070"/>
<polygon points="960.8,1605.7 1003.8,1605.4 1003.8,1607.4 960.8,1607.7" fill="#707070"/>
<polygon points="1075.5,1604.9 1089.8,1604.8 1089.8,1606.8 1075.5,1606.9" fill="#707070"/>
<polygon points="1606.0,1601.2 1634.7,1601.0 1634.7,1603.0 1606.0,1603.2" fill="#3c3c3c"/>
<polygon points="1634.7,1601.0 1649.1,1600.9 1649.1,1602.9 1634.7,1603.0" fill="#c9c9c9"/>
<polygon points="960.0,1620.0 1031.7,1619.5 1031.7,1621.5 960.0,1622.0" fill="#707070"/>
<polygon points="1547.9,1615.8 1562.2,1615.7 1562.2,1617.7 1547.9,1617.8" fill="#707070"/>
<polygon points="1590.9,1615.5 1633.9,1615.2 1633.9,1617.2 1590.9,1617.5" fill="#3c3c3c"/>
<polygon points="1633.9,1615.2 1648.2,1615.1 1648.2,1617.1 1633.9,1617.2" fill="#c9c9c9"/>
<polygon points="1648.2,1615.1 1662.6,1615.0 1662.6,1617.0 1648.2,1617.1" fill="#b9b9b9"/>
<polygon points="959.3,1634.3 1002.3,1633.9 1002.3,1635.9 959.3,1636.3" fill="#707070"/>
<polygon points="1131.3,1633.0 1160.0,1632.8 1160.0,1634.8 1131.3,1635.0" fill="#707070"/>
<polygon points="1518.4,1630.3 1561.4,1630.0 1561.4,1632.0 1518.4,1632.3" fill="#707070"/>
<polygon points="1561.4,1630.0 1618.7,1629.6 1618.7,1631.6 1561.4,1632.0" fill="#3c3c3c"/>
<polygon points="1661.8,1629.3 1690.4,1629.1 1690.4,1631.1 1661.8,1631.3" fill="#a9a9a9"/>
<polygon points="958.5,1648.5 1001.5,1648.2 1001.5,1650.2 958.5,1650.5" fill="#707070"/>
<polygon points="1503.2,1644.7 1546.2,1644.4 1546.2,1646.4 1503.2,1646.7" fill="#707070"/>
<polygon points="1560.6,1644.3 1589.3,1644.1 1589.3,1646.1 1560.6,1646.3" fill="#3c3c3c"/>
<polygon points="1646.6,1643.7 1660.9,1643.6 1660.9,1645.6 1646.6,1645.7" fill="#b1b1b1"/>
<polygon points="1660.9,1643.6 1689.6,1643.4 1689.6,1645.4 1660.9,1645.6" fill="#a9a9a9"/>
<polygon points="1689.6,1643.4 1703.9,1643.3 1703.9,1645.3 1689.6,1645.4" fill="#b1b1b1"/>
<polygon points="1703.9,1643.3 1718.3,1643.2 1718.3,1645.2 1703.9,1645.3" fill="#c1c1c1"/>
</g>
<rect x="982.6" y="917" width="179.7" height="32" rx="5" ry="5" fill="#000"/>
<text x="989.30" y="938.80" font-size="22.07" textLength="167.34" lengthAdjust="spacingAndGlyphs" fill="#fff" font-weight="bold">WMG Count: 0</text>
<rect x="970.5" y="903.5" width="750" height="750" fill="none" stroke="#000" stroke-width="3"/>
</g>
</svg>
</body></html>
